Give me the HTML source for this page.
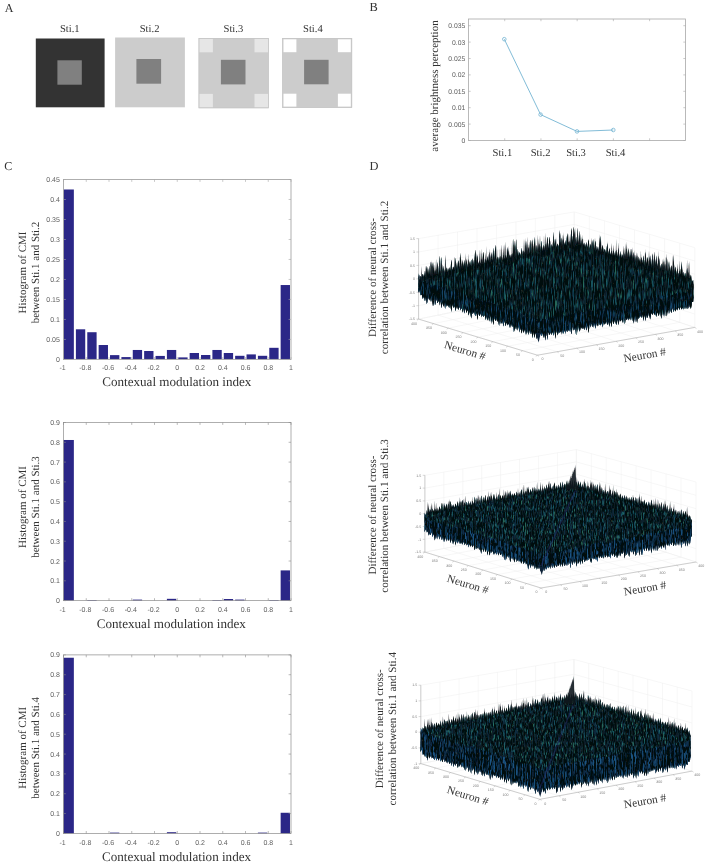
<!DOCTYPE html>
<html><head><meta charset="utf-8"><title>Figure</title>
<style>
html,body{margin:0;padding:0;background:#fff;}
body{width:708px;height:866px;overflow:hidden;font-family:"Liberation Serif",serif;}
svg{display:block;will-change:transform;filter:blur(0.35px)}
</style></head><body>
<svg text-rendering="geometricPrecision" width="708" height="866" viewBox="0 0 708 866">
<rect width="708" height="866" fill="#ffffff"/>
<text x="4.7" y="11.5" font-size="12" text-anchor="start" font-family="Liberation Serif, serif" fill="#333333">A</text>
<text x="369.5" y="10.9" font-size="12.4" text-anchor="start" font-family="Liberation Serif, serif" fill="#333333">B</text>
<text x="4.3" y="169.9" font-size="12" text-anchor="start" font-family="Liberation Serif, serif" fill="#333333">C</text>
<text x="369.5" y="169.9" font-size="12.4" text-anchor="start" font-family="Liberation Serif, serif" fill="#333333">D</text>
<rect x="35.8" y="38.5" width="68.8" height="68.8" fill="#333333"/>
<rect x="57.4" y="60.3" width="24.4" height="24.4" fill="#808080"/>
<text x="69.8" y="32.3" font-size="10.6" text-anchor="middle" font-family="Liberation Serif, serif" fill="#333333">Sti.1</text>
<rect x="115.1" y="37.5" width="69.8" height="69.8" fill="#cccccc"/>
<rect x="136.4" y="59.0" width="24.7" height="24.7" fill="#808080"/>
<text x="149.6" y="32.3" font-size="10.6" text-anchor="middle" font-family="Liberation Serif, serif" fill="#333333">Sti.2</text>
<rect x="198.6" y="38.0" width="70.2" height="70.2" fill="#cccccc"/>
<rect x="199.4" y="38.8" width="13.5" height="13.5" fill="#e6e6e6"/>
<rect x="254.5" y="38.8" width="13.5" height="13.5" fill="#e6e6e6"/>
<rect x="199.4" y="93.9" width="13.5" height="13.5" fill="#e6e6e6"/>
<rect x="254.5" y="93.9" width="13.5" height="13.5" fill="#e6e6e6"/>
<rect x="198.9" y="38.3" width="69.60000000000001" height="69.60000000000001" fill="none" stroke="#c4c4c4" stroke-width="0.6"/>
<rect x="220.9" y="59.8" width="24.6" height="24.6" fill="#808080"/>
<text x="233.4" y="32.3" font-size="10.6" text-anchor="middle" font-family="Liberation Serif, serif" fill="#333333">Sti.3</text>
<rect x="282.2" y="38.0" width="69.9" height="69.9" fill="#cccccc"/>
<rect x="283.5" y="39.3" width="12.9" height="12.9" fill="#ffffff"/>
<rect x="337.9" y="39.3" width="12.9" height="12.9" fill="#ffffff"/>
<rect x="283.5" y="93.7" width="12.9" height="12.9" fill="#ffffff"/>
<rect x="337.9" y="93.7" width="12.9" height="12.9" fill="#ffffff"/>
<rect x="282.5" y="38.3" width="69.30000000000001" height="69.30000000000001" fill="none" stroke="#c4c4c4" stroke-width="0.6"/>
<rect x="304.1" y="59.8" width="24.5" height="24.5" fill="#808080"/>
<text x="312.9" y="32.3" font-size="10.6" text-anchor="middle" font-family="Liberation Serif, serif" fill="#333333">Sti.4</text>
<rect x="468.5" y="19.0" width="217.0" height="121.5" fill="none" stroke="#a8a8a8" stroke-width="0.8"/>
<path d="M468.5 140.50h2.2M685.5 140.50h-2.2" stroke="#a8a8a8" stroke-width="0.6"/>
<text x="465.3" y="142.9" font-size="6.8" text-anchor="end" font-family="Liberation Sans, sans-serif" fill="#606060">0</text>
<path d="M468.5 124.10h2.2M685.5 124.10h-2.2" stroke="#a8a8a8" stroke-width="0.6"/>
<text x="465.3" y="126.5" font-size="6.8" text-anchor="end" font-family="Liberation Sans, sans-serif" fill="#606060">0.005</text>
<path d="M468.5 107.70h2.2M685.5 107.70h-2.2" stroke="#a8a8a8" stroke-width="0.6"/>
<text x="465.3" y="110.1" font-size="6.8" text-anchor="end" font-family="Liberation Sans, sans-serif" fill="#606060">0.01</text>
<path d="M468.5 91.30h2.2M685.5 91.30h-2.2" stroke="#a8a8a8" stroke-width="0.6"/>
<text x="465.3" y="93.7" font-size="6.8" text-anchor="end" font-family="Liberation Sans, sans-serif" fill="#606060">0.015</text>
<path d="M468.5 74.90h2.2M685.5 74.90h-2.2" stroke="#a8a8a8" stroke-width="0.6"/>
<text x="465.3" y="77.3" font-size="6.8" text-anchor="end" font-family="Liberation Sans, sans-serif" fill="#606060">0.02</text>
<path d="M468.5 58.50h2.2M685.5 58.50h-2.2" stroke="#a8a8a8" stroke-width="0.6"/>
<text x="465.3" y="60.9" font-size="6.8" text-anchor="end" font-family="Liberation Sans, sans-serif" fill="#606060">0.025</text>
<path d="M468.5 42.10h2.2M685.5 42.10h-2.2" stroke="#a8a8a8" stroke-width="0.6"/>
<text x="465.3" y="44.5" font-size="6.8" text-anchor="end" font-family="Liberation Sans, sans-serif" fill="#606060">0.03</text>
<path d="M468.5 25.70h2.2M685.5 25.70h-2.2" stroke="#a8a8a8" stroke-width="0.6"/>
<text x="465.3" y="28.1" font-size="6.8" text-anchor="end" font-family="Liberation Sans, sans-serif" fill="#606060">0.035</text>
<path d="M504.72 19.0v2.2M504.72 140.5v-2.2" stroke="#a8a8a8" stroke-width="0.6"/>
<path d="M540.94 19.0v2.2M540.94 140.5v-2.2" stroke="#a8a8a8" stroke-width="0.6"/>
<path d="M577.16 19.0v2.2M577.16 140.5v-2.2" stroke="#a8a8a8" stroke-width="0.6"/>
<path d="M613.38 19.0v2.2M613.38 140.5v-2.2" stroke="#a8a8a8" stroke-width="0.6"/>
<path d="M649.60 19.0v2.2M649.60 140.5v-2.2" stroke="#a8a8a8" stroke-width="0.6"/>
<polyline points="504.3,39.2 540.6,114.6 577.0,131.4 613.3,130.0" fill="none" stroke="#74b4d2" stroke-width="0.9"/>
<circle cx="504.3" cy="39.2" r="1.8" fill="none" stroke="#74b4d2" stroke-width="0.8"/>
<circle cx="540.6" cy="114.6" r="1.8" fill="none" stroke="#74b4d2" stroke-width="0.8"/>
<circle cx="577.0" cy="131.4" r="1.8" fill="none" stroke="#74b4d2" stroke-width="0.8"/>
<circle cx="613.3" cy="130.0" r="1.8" fill="none" stroke="#74b4d2" stroke-width="0.8"/>
<text x="502.4" y="156.0" font-size="10.6" text-anchor="middle" font-family="Liberation Serif, serif" fill="#333333">Sti.1</text>
<text x="540.6" y="156.0" font-size="10.6" text-anchor="middle" font-family="Liberation Serif, serif" fill="#333333">Sti.2</text>
<text x="576.0" y="156.0" font-size="10.6" text-anchor="middle" font-family="Liberation Serif, serif" fill="#333333">Sti.3</text>
<text x="615.5" y="156.0" font-size="10.6" text-anchor="middle" font-family="Liberation Serif, serif" fill="#333333">Sti.4</text>
<text x="437.6" y="86.0" font-size="11" text-anchor="middle" font-family="Liberation Serif, serif" fill="#333333" transform="rotate(-90 437.6 86.0)">average brightness perception</text>
<rect x="63.50" y="189.49" width="10.35" height="169.91" fill="#2b2787"/>
<rect x="75.90" y="329.30" width="9.33" height="30.10" fill="#2b2787"/>
<rect x="87.27" y="332.22" width="9.33" height="27.18" fill="#2b2787"/>
<rect x="98.65" y="345.01" width="9.33" height="14.39" fill="#2b2787"/>
<rect x="110.02" y="355.12" width="9.33" height="4.28" fill="#2b2787"/>
<rect x="121.40" y="357.08" width="9.33" height="2.32" fill="#2b2787"/>
<rect x="132.77" y="349.97" width="9.33" height="9.43" fill="#2b2787"/>
<rect x="144.15" y="351.00" width="9.33" height="8.40" fill="#2b2787"/>
<rect x="155.52" y="355.92" width="9.33" height="3.48" fill="#2b2787"/>
<rect x="166.90" y="349.97" width="9.33" height="9.43" fill="#2b2787"/>
<rect x="178.27" y="357.40" width="9.33" height="2.00" fill="#2b2787"/>
<rect x="189.65" y="353.00" width="9.33" height="6.40" fill="#2b2787"/>
<rect x="201.02" y="355.00" width="9.33" height="4.40" fill="#2b2787"/>
<rect x="212.40" y="349.97" width="9.33" height="9.43" fill="#2b2787"/>
<rect x="223.77" y="353.00" width="9.33" height="6.40" fill="#2b2787"/>
<rect x="235.15" y="355.80" width="9.33" height="3.60" fill="#2b2787"/>
<rect x="246.52" y="354.40" width="9.33" height="5.00" fill="#2b2787"/>
<rect x="257.90" y="355.80" width="9.33" height="3.60" fill="#2b2787"/>
<rect x="269.27" y="347.81" width="9.33" height="11.59" fill="#2b2787"/>
<rect x="280.65" y="285.04" width="9.33" height="74.36" fill="#2b2787"/>
<rect x="63.5" y="179.5" width="227.5" height="179.89999999999998" fill="none" stroke="#a6a6a6" stroke-width="0.9"/>
<path d="M63.5 359.40h2.4M291.0 359.40h-2.4" stroke="#a6a6a6" stroke-width="0.6"/>
<text x="59.9" y="361.9" font-size="7" text-anchor="end" font-family="Liberation Sans, sans-serif" fill="#606060">0</text>
<path d="M63.5 339.41h2.4M291.0 339.41h-2.4" stroke="#a6a6a6" stroke-width="0.6"/>
<text x="59.9" y="341.91" font-size="7" text-anchor="end" font-family="Liberation Sans, sans-serif" fill="#606060">0.05</text>
<path d="M63.5 319.42h2.4M291.0 319.42h-2.4" stroke="#a6a6a6" stroke-width="0.6"/>
<text x="59.9" y="321.92" font-size="7" text-anchor="end" font-family="Liberation Sans, sans-serif" fill="#606060">0.1</text>
<path d="M63.5 299.43h2.4M291.0 299.43h-2.4" stroke="#a6a6a6" stroke-width="0.6"/>
<text x="59.9" y="301.93" font-size="7" text-anchor="end" font-family="Liberation Sans, sans-serif" fill="#606060">0.15</text>
<path d="M63.5 279.44h2.4M291.0 279.44h-2.4" stroke="#a6a6a6" stroke-width="0.6"/>
<text x="59.9" y="281.94" font-size="7" text-anchor="end" font-family="Liberation Sans, sans-serif" fill="#606060">0.2</text>
<path d="M63.5 259.46h2.4M291.0 259.46h-2.4" stroke="#a6a6a6" stroke-width="0.6"/>
<text x="59.9" y="261.96" font-size="7" text-anchor="end" font-family="Liberation Sans, sans-serif" fill="#606060">0.25</text>
<path d="M63.5 239.47h2.4M291.0 239.47h-2.4" stroke="#a6a6a6" stroke-width="0.6"/>
<text x="59.9" y="241.97" font-size="7" text-anchor="end" font-family="Liberation Sans, sans-serif" fill="#606060">0.3</text>
<path d="M63.5 219.48h2.4M291.0 219.48h-2.4" stroke="#a6a6a6" stroke-width="0.6"/>
<text x="59.9" y="221.98" font-size="7" text-anchor="end" font-family="Liberation Sans, sans-serif" fill="#606060">0.35</text>
<path d="M63.5 199.49h2.4M291.0 199.49h-2.4" stroke="#a6a6a6" stroke-width="0.6"/>
<text x="59.9" y="201.99" font-size="7" text-anchor="end" font-family="Liberation Sans, sans-serif" fill="#606060">0.4</text>
<path d="M63.5 179.50h2.4M291.0 179.50h-2.4" stroke="#a6a6a6" stroke-width="0.6"/>
<text x="59.9" y="182.0" font-size="7" text-anchor="end" font-family="Liberation Sans, sans-serif" fill="#606060">0.45</text>
<path d="M63.50 179.5v2.4M63.50 359.4v-2.4" stroke="#a6a6a6" stroke-width="0.6"/>
<text x="62.5" y="370.0" font-size="7" text-anchor="middle" font-family="Liberation Sans, sans-serif" fill="#606060">-1</text>
<path d="M86.25 179.5v2.4M86.25 359.4v-2.4" stroke="#a6a6a6" stroke-width="0.6"/>
<text x="85.25" y="370.0" font-size="7" text-anchor="middle" font-family="Liberation Sans, sans-serif" fill="#606060">-0.8</text>
<path d="M109.00 179.5v2.4M109.00 359.4v-2.4" stroke="#a6a6a6" stroke-width="0.6"/>
<text x="108.0" y="370.0" font-size="7" text-anchor="middle" font-family="Liberation Sans, sans-serif" fill="#606060">-0.6</text>
<path d="M131.75 179.5v2.4M131.75 359.4v-2.4" stroke="#a6a6a6" stroke-width="0.6"/>
<text x="130.75" y="370.0" font-size="7" text-anchor="middle" font-family="Liberation Sans, sans-serif" fill="#606060">-0.4</text>
<path d="M154.50 179.5v2.4M154.50 359.4v-2.4" stroke="#a6a6a6" stroke-width="0.6"/>
<text x="153.5" y="370.0" font-size="7" text-anchor="middle" font-family="Liberation Sans, sans-serif" fill="#606060">-0.2</text>
<path d="M177.25 179.5v2.4M177.25 359.4v-2.4" stroke="#a6a6a6" stroke-width="0.6"/>
<text x="177.25" y="370.0" font-size="7" text-anchor="middle" font-family="Liberation Sans, sans-serif" fill="#606060">0</text>
<path d="M200.00 179.5v2.4M200.00 359.4v-2.4" stroke="#a6a6a6" stroke-width="0.6"/>
<text x="200.0" y="370.0" font-size="7" text-anchor="middle" font-family="Liberation Sans, sans-serif" fill="#606060">0.2</text>
<path d="M222.75 179.5v2.4M222.75 359.4v-2.4" stroke="#a6a6a6" stroke-width="0.6"/>
<text x="222.75" y="370.0" font-size="7" text-anchor="middle" font-family="Liberation Sans, sans-serif" fill="#606060">0.4</text>
<path d="M245.50 179.5v2.4M245.50 359.4v-2.4" stroke="#a6a6a6" stroke-width="0.6"/>
<text x="245.5" y="370.0" font-size="7" text-anchor="middle" font-family="Liberation Sans, sans-serif" fill="#606060">0.6</text>
<path d="M268.25 179.5v2.4M268.25 359.4v-2.4" stroke="#a6a6a6" stroke-width="0.6"/>
<text x="268.25" y="370.0" font-size="7" text-anchor="middle" font-family="Liberation Sans, sans-serif" fill="#606060">0.8</text>
<path d="M291.00 179.5v2.4M291.00 359.4v-2.4" stroke="#a6a6a6" stroke-width="0.6"/>
<text x="291.0" y="370.0" font-size="7" text-anchor="middle" font-family="Liberation Sans, sans-serif" fill="#606060">1</text>
<text x="176.8" y="386.3" font-size="13.1" text-anchor="middle" font-family="Liberation Serif, serif" fill="#333333">Contexual modulation index</text>
<text x="25.8" y="272.5" font-size="11" text-anchor="middle" font-family="Liberation Serif, serif" fill="#333333" transform="rotate(-90 25.8 272.5)">Histogram of CMI</text>
<text x="38.6" y="272.5" font-size="11" text-anchor="middle" font-family="Liberation Serif, serif" fill="#333333" transform="rotate(-90 38.6 272.5)">between Sti.1 and Sti.2</text>
<rect x="63.50" y="439.99" width="10.35" height="160.61" fill="#2b2787"/>
<rect x="87.27" y="600.01" width="9.33" height="0.59" fill="#2b2787"/>
<rect x="132.77" y="599.61" width="9.33" height="0.99" fill="#2b2787"/>
<rect x="166.90" y="598.82" width="9.33" height="1.78" fill="#2b2787"/>
<rect x="212.40" y="600.01" width="9.33" height="0.59" fill="#2b2787"/>
<rect x="223.77" y="599.02" width="9.33" height="1.58" fill="#2b2787"/>
<rect x="235.15" y="599.61" width="9.33" height="0.99" fill="#2b2787"/>
<rect x="269.27" y="600.01" width="9.33" height="0.59" fill="#2b2787"/>
<rect x="280.65" y="570.40" width="9.33" height="30.20" fill="#2b2787"/>
<rect x="63.5" y="422.5" width="227.5" height="178.10000000000002" fill="none" stroke="#8c8c8c" stroke-width="0.7"/>
<path d="M63.5 600.60h2.4M291.0 600.60h-2.4" stroke="#8c8c8c" stroke-width="0.6"/>
<text x="59.9" y="603.1" font-size="7" text-anchor="end" font-family="Liberation Sans, sans-serif" fill="#606060">0</text>
<path d="M63.5 580.81h2.4M291.0 580.81h-2.4" stroke="#8c8c8c" stroke-width="0.6"/>
<text x="59.9" y="583.31" font-size="7" text-anchor="end" font-family="Liberation Sans, sans-serif" fill="#606060">0.1</text>
<path d="M63.5 561.02h2.4M291.0 561.02h-2.4" stroke="#8c8c8c" stroke-width="0.6"/>
<text x="59.9" y="563.52" font-size="7" text-anchor="end" font-family="Liberation Sans, sans-serif" fill="#606060">0.2</text>
<path d="M63.5 541.23h2.4M291.0 541.23h-2.4" stroke="#8c8c8c" stroke-width="0.6"/>
<text x="59.9" y="543.73" font-size="7" text-anchor="end" font-family="Liberation Sans, sans-serif" fill="#606060">0.3</text>
<path d="M63.5 521.44h2.4M291.0 521.44h-2.4" stroke="#8c8c8c" stroke-width="0.6"/>
<text x="59.9" y="523.94" font-size="7" text-anchor="end" font-family="Liberation Sans, sans-serif" fill="#606060">0.4</text>
<path d="M63.5 501.66h2.4M291.0 501.66h-2.4" stroke="#8c8c8c" stroke-width="0.6"/>
<text x="59.9" y="504.16" font-size="7" text-anchor="end" font-family="Liberation Sans, sans-serif" fill="#606060">0.5</text>
<path d="M63.5 481.87h2.4M291.0 481.87h-2.4" stroke="#8c8c8c" stroke-width="0.6"/>
<text x="59.9" y="484.37" font-size="7" text-anchor="end" font-family="Liberation Sans, sans-serif" fill="#606060">0.6</text>
<path d="M63.5 462.08h2.4M291.0 462.08h-2.4" stroke="#8c8c8c" stroke-width="0.6"/>
<text x="59.9" y="464.58" font-size="7" text-anchor="end" font-family="Liberation Sans, sans-serif" fill="#606060">0.7</text>
<path d="M63.5 442.29h2.4M291.0 442.29h-2.4" stroke="#8c8c8c" stroke-width="0.6"/>
<text x="59.9" y="444.79" font-size="7" text-anchor="end" font-family="Liberation Sans, sans-serif" fill="#606060">0.8</text>
<path d="M63.5 422.50h2.4M291.0 422.50h-2.4" stroke="#8c8c8c" stroke-width="0.6"/>
<text x="59.9" y="425.0" font-size="7" text-anchor="end" font-family="Liberation Sans, sans-serif" fill="#606060">0.9</text>
<path d="M63.50 422.5v2.4M63.50 600.6v-2.4" stroke="#8c8c8c" stroke-width="0.6"/>
<text x="62.5" y="611.9" font-size="7" text-anchor="middle" font-family="Liberation Sans, sans-serif" fill="#606060">-1</text>
<path d="M86.25 422.5v2.4M86.25 600.6v-2.4" stroke="#8c8c8c" stroke-width="0.6"/>
<text x="85.25" y="611.9" font-size="7" text-anchor="middle" font-family="Liberation Sans, sans-serif" fill="#606060">-0.8</text>
<path d="M109.00 422.5v2.4M109.00 600.6v-2.4" stroke="#8c8c8c" stroke-width="0.6"/>
<text x="108.0" y="611.9" font-size="7" text-anchor="middle" font-family="Liberation Sans, sans-serif" fill="#606060">-0.6</text>
<path d="M131.75 422.5v2.4M131.75 600.6v-2.4" stroke="#8c8c8c" stroke-width="0.6"/>
<text x="130.75" y="611.9" font-size="7" text-anchor="middle" font-family="Liberation Sans, sans-serif" fill="#606060">-0.4</text>
<path d="M154.50 422.5v2.4M154.50 600.6v-2.4" stroke="#8c8c8c" stroke-width="0.6"/>
<text x="153.5" y="611.9" font-size="7" text-anchor="middle" font-family="Liberation Sans, sans-serif" fill="#606060">-0.2</text>
<path d="M177.25 422.5v2.4M177.25 600.6v-2.4" stroke="#8c8c8c" stroke-width="0.6"/>
<text x="177.25" y="611.9" font-size="7" text-anchor="middle" font-family="Liberation Sans, sans-serif" fill="#606060">0</text>
<path d="M200.00 422.5v2.4M200.00 600.6v-2.4" stroke="#8c8c8c" stroke-width="0.6"/>
<text x="200.0" y="611.9" font-size="7" text-anchor="middle" font-family="Liberation Sans, sans-serif" fill="#606060">0.2</text>
<path d="M222.75 422.5v2.4M222.75 600.6v-2.4" stroke="#8c8c8c" stroke-width="0.6"/>
<text x="222.75" y="611.9" font-size="7" text-anchor="middle" font-family="Liberation Sans, sans-serif" fill="#606060">0.4</text>
<path d="M245.50 422.5v2.4M245.50 600.6v-2.4" stroke="#8c8c8c" stroke-width="0.6"/>
<text x="245.5" y="611.9" font-size="7" text-anchor="middle" font-family="Liberation Sans, sans-serif" fill="#606060">0.6</text>
<path d="M268.25 422.5v2.4M268.25 600.6v-2.4" stroke="#8c8c8c" stroke-width="0.6"/>
<text x="268.25" y="611.9" font-size="7" text-anchor="middle" font-family="Liberation Sans, sans-serif" fill="#606060">0.8</text>
<path d="M291.00 422.5v2.4M291.00 600.6v-2.4" stroke="#8c8c8c" stroke-width="0.6"/>
<text x="291.0" y="611.9" font-size="7" text-anchor="middle" font-family="Liberation Sans, sans-serif" fill="#606060">1</text>
<text x="171.3" y="627.9" font-size="13.1" text-anchor="middle" font-family="Liberation Serif, serif" fill="#333333">Contexual modulation index</text>
<text x="25.8" y="507.0" font-size="11" text-anchor="middle" font-family="Liberation Serif, serif" fill="#333333" transform="rotate(-90 25.8 507.0)">Histogram of CMI</text>
<text x="38.6" y="507.0" font-size="11" text-anchor="middle" font-family="Liberation Serif, serif" fill="#333333" transform="rotate(-90 38.6 507.0)">between Sti.1 and Sti.3</text>
<rect x="63.50" y="657.74" width="10.35" height="175.66" fill="#2b2787"/>
<rect x="110.02" y="832.61" width="9.33" height="0.79" fill="#2b2787"/>
<rect x="166.90" y="832.21" width="9.33" height="1.19" fill="#2b2787"/>
<rect x="257.90" y="832.61" width="9.33" height="0.79" fill="#2b2787"/>
<rect x="280.65" y="812.77" width="9.33" height="20.63" fill="#2b2787"/>
<rect x="63.5" y="654.9" width="227.5" height="178.5" fill="none" stroke="#8c8c8c" stroke-width="0.7"/>
<path d="M63.5 833.40h2.4M291.0 833.40h-2.4" stroke="#8c8c8c" stroke-width="0.6"/>
<text x="59.9" y="835.9" font-size="7" text-anchor="end" font-family="Liberation Sans, sans-serif" fill="#606060">0</text>
<path d="M63.5 813.57h2.4M291.0 813.57h-2.4" stroke="#8c8c8c" stroke-width="0.6"/>
<text x="59.9" y="816.07" font-size="7" text-anchor="end" font-family="Liberation Sans, sans-serif" fill="#606060">0.1</text>
<path d="M63.5 793.73h2.4M291.0 793.73h-2.4" stroke="#8c8c8c" stroke-width="0.6"/>
<text x="59.9" y="796.23" font-size="7" text-anchor="end" font-family="Liberation Sans, sans-serif" fill="#606060">0.2</text>
<path d="M63.5 773.90h2.4M291.0 773.90h-2.4" stroke="#8c8c8c" stroke-width="0.6"/>
<text x="59.9" y="776.4" font-size="7" text-anchor="end" font-family="Liberation Sans, sans-serif" fill="#606060">0.3</text>
<path d="M63.5 754.07h2.4M291.0 754.07h-2.4" stroke="#8c8c8c" stroke-width="0.6"/>
<text x="59.9" y="756.57" font-size="7" text-anchor="end" font-family="Liberation Sans, sans-serif" fill="#606060">0.4</text>
<path d="M63.5 734.23h2.4M291.0 734.23h-2.4" stroke="#8c8c8c" stroke-width="0.6"/>
<text x="59.9" y="736.73" font-size="7" text-anchor="end" font-family="Liberation Sans, sans-serif" fill="#606060">0.5</text>
<path d="M63.5 714.40h2.4M291.0 714.40h-2.4" stroke="#8c8c8c" stroke-width="0.6"/>
<text x="59.9" y="716.9" font-size="7" text-anchor="end" font-family="Liberation Sans, sans-serif" fill="#606060">0.6</text>
<path d="M63.5 694.57h2.4M291.0 694.57h-2.4" stroke="#8c8c8c" stroke-width="0.6"/>
<text x="59.9" y="697.07" font-size="7" text-anchor="end" font-family="Liberation Sans, sans-serif" fill="#606060">0.7</text>
<path d="M63.5 674.73h2.4M291.0 674.73h-2.4" stroke="#8c8c8c" stroke-width="0.6"/>
<text x="59.9" y="677.23" font-size="7" text-anchor="end" font-family="Liberation Sans, sans-serif" fill="#606060">0.8</text>
<path d="M63.5 654.90h2.4M291.0 654.90h-2.4" stroke="#8c8c8c" stroke-width="0.6"/>
<text x="59.9" y="657.4" font-size="7" text-anchor="end" font-family="Liberation Sans, sans-serif" fill="#606060">0.9</text>
<path d="M63.50 654.9v2.4M63.50 833.4v-2.4" stroke="#8c8c8c" stroke-width="0.6"/>
<text x="62.5" y="844.6" font-size="7" text-anchor="middle" font-family="Liberation Sans, sans-serif" fill="#606060">-1</text>
<path d="M86.25 654.9v2.4M86.25 833.4v-2.4" stroke="#8c8c8c" stroke-width="0.6"/>
<text x="85.25" y="844.6" font-size="7" text-anchor="middle" font-family="Liberation Sans, sans-serif" fill="#606060">-0.8</text>
<path d="M109.00 654.9v2.4M109.00 833.4v-2.4" stroke="#8c8c8c" stroke-width="0.6"/>
<text x="108.0" y="844.6" font-size="7" text-anchor="middle" font-family="Liberation Sans, sans-serif" fill="#606060">-0.6</text>
<path d="M131.75 654.9v2.4M131.75 833.4v-2.4" stroke="#8c8c8c" stroke-width="0.6"/>
<text x="130.75" y="844.6" font-size="7" text-anchor="middle" font-family="Liberation Sans, sans-serif" fill="#606060">-0.4</text>
<path d="M154.50 654.9v2.4M154.50 833.4v-2.4" stroke="#8c8c8c" stroke-width="0.6"/>
<text x="153.5" y="844.6" font-size="7" text-anchor="middle" font-family="Liberation Sans, sans-serif" fill="#606060">-0.2</text>
<path d="M177.25 654.9v2.4M177.25 833.4v-2.4" stroke="#8c8c8c" stroke-width="0.6"/>
<text x="177.25" y="844.6" font-size="7" text-anchor="middle" font-family="Liberation Sans, sans-serif" fill="#606060">0</text>
<path d="M200.00 654.9v2.4M200.00 833.4v-2.4" stroke="#8c8c8c" stroke-width="0.6"/>
<text x="200.0" y="844.6" font-size="7" text-anchor="middle" font-family="Liberation Sans, sans-serif" fill="#606060">0.2</text>
<path d="M222.75 654.9v2.4M222.75 833.4v-2.4" stroke="#8c8c8c" stroke-width="0.6"/>
<text x="222.75" y="844.6" font-size="7" text-anchor="middle" font-family="Liberation Sans, sans-serif" fill="#606060">0.4</text>
<path d="M245.50 654.9v2.4M245.50 833.4v-2.4" stroke="#8c8c8c" stroke-width="0.6"/>
<text x="245.5" y="844.6" font-size="7" text-anchor="middle" font-family="Liberation Sans, sans-serif" fill="#606060">0.6</text>
<path d="M268.25 654.9v2.4M268.25 833.4v-2.4" stroke="#8c8c8c" stroke-width="0.6"/>
<text x="268.25" y="844.6" font-size="7" text-anchor="middle" font-family="Liberation Sans, sans-serif" fill="#606060">0.8</text>
<path d="M291.00 654.9v2.4M291.00 833.4v-2.4" stroke="#8c8c8c" stroke-width="0.6"/>
<text x="291.0" y="844.6" font-size="7" text-anchor="middle" font-family="Liberation Sans, sans-serif" fill="#606060">1</text>
<text x="176.5" y="861.0" font-size="13.1" text-anchor="middle" font-family="Liberation Serif, serif" fill="#333333">Contexual modulation index</text>
<text x="25.8" y="747.8" font-size="11" text-anchor="middle" font-family="Liberation Serif, serif" fill="#333333" transform="rotate(-90 25.8 747.8)">Histogram of CMI</text>
<text x="38.6" y="747.8" font-size="11" text-anchor="middle" font-family="Liberation Serif, serif" fill="#333333" transform="rotate(-90 38.6 747.8)">between Sti.1 and Sti.4</text>
<path d="M418.6 319.1L574.2 287.2M537.4 355.2L418.6 319.1M418.6 319.1L418.6 238.6M574.2 287.2L574.2 211.9M433.5 323.6L589.3 292.2M557.1 351.7L438.1 315.1M438.1 315.1L438.1 235.3M589.3 292.2L589.3 216.4M448.3 328.1L604.4 297.2M576.8 348.2L457.5 311.1M457.5 311.1L457.5 231.9M604.4 297.2L604.4 220.8M463.1 332.6L619.4 302.3M596.4 344.8L477 307.1M477 307.1L477 228.6M619.4 302.3L619.4 225.3M478 337.1L634.5 307.3M616.1 341.3L496.4 303.1M496.4 303.1L496.4 225.2M634.5 307.3L634.5 229.8M492.9 341.7L649.6 312.3M635.8 337.8L515.9 299.2M515.9 299.2L515.9 221.9M649.6 312.3L649.6 234.3M507.7 346.2L664.6 317.3M655.4 334.3L535.3 295.2M535.3 295.2L535.3 218.6M664.6 317.3L664.6 238.8M522.5 350.7L679.7 322.4M675.1 330.9L554.8 291.2M554.8 291.2L554.8 215.2M679.7 322.4L679.7 243.2M537.4 355.2L694.8 327.4M694.8 327.4L574.2 287.2M574.2 287.2L574.2 211.9M694.8 327.4L694.8 247.7M418.6 319.1L574.2 287.2L694.8 327.4M418.6 305.7L574.2 274.6L694.8 314.1M418.6 292.3L574.2 262.1L694.8 300.8M418.6 278.9L574.2 249.5L694.8 287.5M418.6 265.4L574.2 237L694.8 274.3M418.6 252L574.2 224.4L694.8 261M418.6 238.6L574.2 211.9L694.8 247.7" fill="none" stroke="#efefef" stroke-width="0.5"/>
<path d="M418.6 238.6L418.6 319.1L537.4 355.2L694.8 327.4" fill="none" stroke="#ababab" stroke-width="0.55"/>
<text x="415.0" y="320.3" font-size="3.6" text-anchor="end" font-family="Liberation Sans, sans-serif" fill="#7a7a7a">-1.5</text>
<text x="415.0" y="306.9" font-size="3.6" text-anchor="end" font-family="Liberation Sans, sans-serif" fill="#7a7a7a">-1</text>
<text x="415.0" y="293.5" font-size="3.6" text-anchor="end" font-family="Liberation Sans, sans-serif" fill="#7a7a7a">-0.5</text>
<text x="415.0" y="280.1" font-size="3.6" text-anchor="end" font-family="Liberation Sans, sans-serif" fill="#7a7a7a">0</text>
<text x="415.0" y="266.6" font-size="3.6" text-anchor="end" font-family="Liberation Sans, sans-serif" fill="#7a7a7a">0.5</text>
<text x="415.0" y="253.2" font-size="3.6" text-anchor="end" font-family="Liberation Sans, sans-serif" fill="#7a7a7a">1</text>
<text x="415.0" y="239.8" font-size="3.6" text-anchor="end" font-family="Liberation Sans, sans-serif" fill="#7a7a7a">1.5</text>
<text x="414.0" y="324.5" font-size="3.6" text-anchor="middle" font-family="Liberation Sans, sans-serif" fill="#7a7a7a">400</text>
<text x="542.6" y="360.4" font-size="3.6" text-anchor="middle" font-family="Liberation Sans, sans-serif" fill="#7a7a7a">0</text>
<text x="428.9" y="329.0" font-size="3.6" text-anchor="middle" font-family="Liberation Sans, sans-serif" fill="#7a7a7a">350</text>
<text x="562.3" y="356.9" font-size="3.6" text-anchor="middle" font-family="Liberation Sans, sans-serif" fill="#7a7a7a">50</text>
<text x="443.7" y="333.5" font-size="3.6" text-anchor="middle" font-family="Liberation Sans, sans-serif" fill="#7a7a7a">300</text>
<text x="582.0" y="353.4" font-size="3.6" text-anchor="middle" font-family="Liberation Sans, sans-serif" fill="#7a7a7a">100</text>
<text x="458.5" y="338.0" font-size="3.6" text-anchor="middle" font-family="Liberation Sans, sans-serif" fill="#7a7a7a">250</text>
<text x="601.6" y="350.0" font-size="3.6" text-anchor="middle" font-family="Liberation Sans, sans-serif" fill="#7a7a7a">150</text>
<text x="473.4" y="342.5" font-size="3.6" text-anchor="middle" font-family="Liberation Sans, sans-serif" fill="#7a7a7a">200</text>
<text x="621.3" y="346.5" font-size="3.6" text-anchor="middle" font-family="Liberation Sans, sans-serif" fill="#7a7a7a">200</text>
<text x="488.2" y="347.1" font-size="3.6" text-anchor="middle" font-family="Liberation Sans, sans-serif" fill="#7a7a7a">150</text>
<text x="641.0" y="343.0" font-size="3.6" text-anchor="middle" font-family="Liberation Sans, sans-serif" fill="#7a7a7a">250</text>
<text x="503.1" y="351.6" font-size="3.6" text-anchor="middle" font-family="Liberation Sans, sans-serif" fill="#7a7a7a">100</text>
<text x="660.6" y="339.5" font-size="3.6" text-anchor="middle" font-family="Liberation Sans, sans-serif" fill="#7a7a7a">300</text>
<text x="517.9" y="356.1" font-size="3.6" text-anchor="middle" font-family="Liberation Sans, sans-serif" fill="#7a7a7a">50</text>
<text x="680.3" y="336.1" font-size="3.6" text-anchor="middle" font-family="Liberation Sans, sans-serif" fill="#7a7a7a">350</text>
<text x="532.8" y="360.6" font-size="3.6" text-anchor="middle" font-family="Liberation Sans, sans-serif" fill="#7a7a7a">0</text>
<text x="700.0" y="332.6" font-size="3.6" text-anchor="middle" font-family="Liberation Sans, sans-serif" fill="#7a7a7a">400</text>
<path d="M418.6 319.1h-2.2M418.6 305.7h-2.2M418.6 292.3h-2.2M418.6 278.9h-2.2M418.6 265.4h-2.2M418.6 252h-2.2M418.6 238.6h-2.2M418.6 319.1l-1.6 1.1M537.4 355.2l1.6 1.1M433.5 323.6l-1.6 1.1M557.1 351.7l1.6 1.1M448.3 328.1l-1.6 1.1M576.8 348.2l1.6 1.1M463.1 332.6l-1.6 1.1M596.4 344.8l1.6 1.1M478 337.1l-1.6 1.1M616.1 341.3l1.6 1.1M492.9 341.7l-1.6 1.1M635.8 337.8l1.6 1.1M507.7 346.2l-1.6 1.1M655.4 334.3l1.6 1.1M522.5 350.7l-1.6 1.1M675.1 330.9l1.6 1.1M537.4 355.2l-1.6 1.1M694.8 327.4l1.6 1.1" fill="none" stroke="#ababab" stroke-width="0.45"/>
<defs><filter id="ta1" filterUnits="userSpaceOnUse" x="415" y="194" width="282" height="151" color-interpolation-filters="sRGB"><feTurbulence type="fractalNoise" baseFrequency="0.9 0.09" numOctaves="2" seed="12"/><feColorMatrix values="0 0 0 0 0.08 0 0 0 0 0.33 0 0 0 0 0.36 5.0 0 0 0 -2.5"/><feComposite in2="SourceAlpha" operator="in"/></filter><filter id="tg1" filterUnits="userSpaceOnUse" x="415" y="194" width="282" height="151" color-interpolation-filters="sRGB"><feTurbulence type="fractalNoise" baseFrequency="0.9 0.09" numOctaves="2" seed="13"/><feColorMatrix values="0 0 0 0 0.18 0 0 0 0 0.48 0 0 0 0 0.4 6.5 0 0 0 -3.85"/><feComposite in2="SourceAlpha" operator="in"/></filter><filter id="tb1" filterUnits="userSpaceOnUse" x="415" y="194" width="282" height="151" color-interpolation-filters="sRGB"><feTurbulence type="fractalNoise" baseFrequency="0.9 0.09" numOctaves="2" seed="14"/><feColorMatrix values="0 0 0 0 0.08 0 0 0 0 0.27 0 0 0 0 0.41 5.5 0 0 0 -2.4"/><feComposite in2="SourceAlpha" operator="in"/></filter><filter id="tk1" filterUnits="userSpaceOnUse" x="415" y="194" width="282" height="151" color-interpolation-filters="sRGB"><feTurbulence type="fractalNoise" baseFrequency="0.9 0.09" numOctaves="2" seed="15"/><feColorMatrix values="0 0 0 0 0.0 0 0 0 0 0.03 0 0 0 0 0.04 5.5 0 0 0 -2.35"/><feComposite in2="SourceAlpha" operator="in"/></filter><filter id="tq1" filterUnits="userSpaceOnUse" x="415" y="194" width="282" height="151" color-interpolation-filters="sRGB"><feTurbulence type="fractalNoise" baseFrequency="0.9 0.09" numOctaves="2" seed="17"/><feColorMatrix values="0 0 0 0 0.0 0 0 0 0 0.03 0 0 0 0 0.05 6.0 0 0 0 -2.5"/><feComposite in2="SourceAlpha" operator="in"/></filter><filter id="ty1" filterUnits="userSpaceOnUse" x="415" y="194" width="282" height="151" color-interpolation-filters="sRGB"><feTurbulence type="fractalNoise" baseFrequency="0.8 0.4" numOctaves="1" seed="16"/><feColorMatrix values="0 0 0 0 0.5 0 0 0 0 0.45 0 0 0 0 0.28 9.0 0 0 0 -6.1"/><feComposite in2="SourceAlpha" operator="in"/></filter><filter id="bl1" filterUnits="userSpaceOnUse" x="413" y="192" width="286" height="155"><feGaussianBlur stdDeviation="0.4"/></filter><path id="s1" d="M418.4 274L419.4 281L420.5 276.1L421.8 277.6L422.9 273.8L423.9 277L425 270.4L425.9 277.2L426.9 265.8L428.1 275.7L429.3 265.5L430.1 275.8L431 261L431.8 275.6L433 262L434.2 274.9L435 270L436.3 274.9L437.7 261.9L438.8 274.5L439.9 255.5L440.8 273.9L441.5 256.8L442.6 272.8L443.4 265.4L444.2 273.1L445.1 268.7L445.9 271.7L446.9 267.6L447.9 272.3L449.2 267.2L450.2 271.7L451.4 259.4L452.4 270.8L453.6 266.6L454.6 270.4L455.5 257.7L456.9 269.9L458.2 260.2L459.5 269.1L460.7 252.7L461.6 269.3L462.5 259.9L463.4 268L464.2 259.8L465.4 267.3L466.4 259.1L467.7 267.9L468.6 259L470 266.3L471.2 259.6L472 267.1L472.8 258.3L474.2 265.9L475.2 249.5L476.5 265.2L477.5 254.9L478.3 264.5L479.4 261.1L480.7 264.2L481.6 258.4L482.4 264.4L483.3 251.4L484.6 263.7L485.9 258.7L486.7 263.1L487.6 255.9L488.4 262.3L489.1 252.1L490.4 262.4L491.2 252L492.3 261.6L493.3 247.5L494.2 261.3L495.4 244.4L496.2 261.8L497.3 256.6L498.1 261L499.1 256.4L500 260.1L500.9 255.9L502.3 260L503.5 254.7L504.4 259.9L505.7 254.8L506.6 259.2L507.6 246.9L508.8 257.6L510 254.2L510.8 257.9L512.1 253.2L513 256.9L513.9 238.6L515.1 256.3L516.1 239.1L517 256.9L517.8 248.4L518.6 256L519.7 252.1L520.5 256.2L521.7 247.8L522.6 255.1L523.7 250.5L525 253.9L526 240.4L527.1 254.7L528.4 246.9L529.3 253.7L530.1 239.4L531.4 253.9L532.6 239.4L533.5 252.6L534.4 236.8L535.6 252.7L536.9 245L537.8 251.2L539.1 243.6L540.4 251L541.5 240.5L542.5 251.4L543.3 244.5L544.1 250.5L545.4 243.4L546.3 250.1L547.5 236.5L548.4 248.7L549.6 236.5L550.8 248.8L551.7 244L552.5 247.9L553.7 231.9L554.5 248.1L555.4 238.4L556.4 247.9L557.7 243.4L558.8 247.5L559.8 229.9L561.1 246.6L561.9 238.1L562.7 245.6L563.6 238.9L564.6 246L565.4 240.1L566.2 245.6L567.2 233L568.3 244.3L569.1 241L570.1 245L571.4 228.1L572.7 243.4L573.9 226.4L575 244.7L576.1 236.4L577 244.2L577.7 227.7L578.5 245L579.8 231.1L580.9 245.2L582.3 238.5L583 245.8L584.2 242.6L585.2 247.3L586.4 242.1L587.3 247.6L588.7 239.2L589.5 249L590.6 243.6L591.8 249.6L593.1 238.9L594.3 249.4L595.4 240.7L596.7 250.7L598 246.2L598.9 251.9L600.1 235.7L601.4 251.2L602.7 245L603.7 251.9L604.9 249L606.2 253.6L607.3 243L608.4 253.9L609.4 248L610.5 255.1L611.6 250.7L612.4 255.3L613.6 250.6L614.9 255.5L616.2 249.7L617.4 257.3L618.4 247.7L619.6 257.9L620.7 251.1L621.7 258.4L623 254.3L623.7 258.5L624.9 253.2L625.7 258.4L626.8 248.2L627.9 259.4L628.7 248.1L629.9 259.8L631 248.2L632.1 260.4L633.4 251.8L634.3 262.3L635 254.4L636 261.8L637.1 255.5L638 263.3L638.8 256.5L640.1 263.1L641.3 256.9L642.3 264.1L643.6 255.3L644.5 264.7L645.7 251.8L646.5 264.9L647.6 256.9L648.8 266L650.1 255.3L651.4 266L652.4 253.2L653.5 266.7L654.4 251.3L655.2 268L656.3 255.3L657.5 268.1L658.8 255.6L660 269.6L661.3 263.5L662.2 270.1L663.1 261.2L664.1 270.7L665 263.6L665.9 271.2L666.9 257.1L668 272.2L669 261.1L670 272.5L671.2 265.3L672.6 272.4L673.6 254.7L674.4 273L675.2 266.5L676.4 274.8L677.2 268.5L678.4 274.9L679.5 270.6L680.4 275.2L681.6 261.3L682.4 275.3L683.2 271.8L684.2 276.7L685 272.4L686.2 276.7L687.1 267.8L687.9 277.6L688.7 271.9L689.8 278.6L690.9 274.6L692 281.8L693.1 279.9L693.6 284.9L693.6 297.6L693.1 301.9L692 301.7L690.9 309.1L689.8 304.6L688.7 308.8L687.9 305.1L687.1 309.3L686.2 306.4L685 309.2L684.2 306.1L683.2 309.8L682.4 307.1L681.6 309.6L680.4 306.9L679.5 310L678.4 307L677.2 310.6L676.4 308.4L675.2 311.6L674.4 308.6L673.6 312.2L672.6 308.2L671.2 312.9L670 308.6L669 313.9L668 308.7L666.9 316.5L665.9 309.3L665 316.8L664.1 309.6L663.1 316.4L662.2 310.6L661.3 318.7L660 311.1L658.8 315.9L657.5 311.9L656.3 317.2L655.2 312.4L654.4 314.9L653.5 311.9L652.4 315.3L651.4 312.6L650.1 319.5L648.8 312.5L647.6 318.2L646.5 314.3L645.7 321L644.5 314.5L643.6 321.1L642.3 314L641.3 317.8L640.1 315L638.8 319L638 315.6L637.1 323.1L636 315.9L635 322.5L634.3 315.4L633.4 323.7L632.1 316.1L631 320.5L629.9 317.1L628.7 320.5L627.9 316.9L626.8 320.3L625.7 318.1L624.9 324.2L623.7 317.8L623 323.1L621.7 319.1L620.7 321.5L619.6 319L618.4 325.3L617.4 319.5L616.2 325L614.9 319.3L613.6 324.2L612.4 319.8L611.6 327.1L610.5 321.3L609.4 327L608.4 321.5L607.3 325.1L606.2 321.4L604.9 324.6L603.7 321.9L602.7 327.5L601.4 322.7L600.1 325.4L598.9 322.2L598 326.4L596.7 322.9L595.4 328.7L594.3 323.5L593.1 327.8L591.8 323.8L590.6 327.4L589.5 324.4L588.7 333.1L587.3 324.7L586.4 330.4L585.2 325.6L584.2 330L583 325.9L582.3 329.3L580.9 326.2L579.8 331.8L578.5 326.1L577.7 333L577 327L576.1 335.2L575 327.5L573.9 330.4L572.7 327L571.4 334.2L570.1 328.4L569.1 331.4L568.3 328.9L567.2 332.2L566.2 329.2L565.4 334.5L564.6 329.3L563.6 334L562.7 328.8L561.9 334.8L561.1 330.2L559.8 333L558.8 330.8L557.7 335.4L556.4 330L555.4 338.9L554.5 330.1L553.7 335.8L552.5 331.5L551.7 335.2L550.8 332.1L549.6 335L548.4 331.7L547.5 340.1L546.3 331.9L545.4 340.6L544.1 332.5L543.3 338.3L542.5 332.6L541.5 336.3L540.4 333L539.1 336.2L537.8 333.6L536.9 339.1L535.6 332.2L534.4 338L533.5 331.2L532.6 338.2L531.4 330.7L530.1 334L529.3 329.5L528.4 335.1L527.1 329.3L526 335L525 328.1L523.7 332.9L522.6 328.3L521.7 333.6L520.5 327.6L519.7 332.6L518.6 326.2L517.8 330.7L517 326L516.1 329.8L515.1 325.7L513.9 332.3L513 323.8L512.1 327.1L510.8 323.4L510 328.1L508.8 323.4L507.6 325.5L506.6 322L505.7 326.2L504.4 320.5L503.5 326.6L502.3 321.1L500.9 323.9L500 319.1L499.1 326.1L498.1 319.3L497.3 322L496.2 317.8L495.4 321.3L494.2 318L493.3 324.9L492.3 316.8L491.2 323.9L490.4 316L489.1 321.6L488.4 316.4L487.6 320.4L486.7 315.6L485.9 319.9L484.6 315.1L483.3 317.3L482.4 314.6L481.6 317.6L480.7 313.2L479.4 316.3L478.3 312.4L477.5 320.1L476.5 312.7L475.2 316.2L474.2 311L472.8 314L472 311.2L471.2 318.5L470 310.1L468.6 315.6L467.7 309.4L466.4 313.1L465.4 308L464.2 313.6L463.4 308.1L462.5 312.8L461.6 306.9L460.7 310.5L459.5 306.4L458.2 310.1L456.9 305.6L455.5 311.1L454.6 305.7L453.6 308.3L452.4 304L451.4 312.2L450.2 303.5L449.2 308.3L447.9 303.8L446.9 306.7L445.9 302.2L445.1 309.1L444.2 302.2L443.4 306.7L442.6 302.3L441.5 308.3L440.8 301.3L439.9 305.6L438.8 299.7L437.7 303.3L436.3 299.5L435 305.3L434.2 298.8L433 306.4L431.8 297.7L431 301.9L430.1 297.5L429.3 300.4L428.1 296.4L426.9 304.2L425.9 296.6L425 301.4L423.9 295.5L422.9 298.9L421.8 294.8L420.5 295.2L419.4 289.7L418.4 292.8Z"/><path id="b1" d="M418.4 273L421.8 281.4L425 282.4L428.1 282.7L431 285.4L434.2 285.6L437.7 285.6L440.8 286L443.4 288L445.9 288.5L449.2 290.6L452.4 291.4L455.5 292.1L459.5 292.3L462.5 293.2L465.4 294.5L468.6 295.4L472 297.9L475.2 298L478.3 299.3L481.6 301.2L484.6 300.4L487.6 302L490.4 301.9L493.3 304.3L496.2 303.3L499.1 306.3L502.3 307.4L505.7 308.6L508.8 307.9L512.1 309.6L515.1 311.8L517.8 311.3L520.5 313.2L523.7 314.3L527.1 316.8L530.1 317L533.5 318.9L536.9 318.8L540.4 320.1L543.3 318.7L546.3 319.4L549.6 316.8L552.5 318.2L555.4 316.1L558.8 316.4L561.9 315.8L564.6 314.5L567.2 315.7L570.1 313.9L573.9 313.3L577 312.2L579.8 312.3L583 312.1L586.4 312L589.5 310.6L593.1 310.7L596.7 308.5L600.1 308.6L603.7 308L607.3 308.6L610.5 307.6L613.6 306.6L617.4 304.3L620.7 304.5L623.7 304.8L626.8 303L629.9 303.2L633.4 302.3L636 300.6L638.8 302.5L642.3 301.4L645.7 299.2L648.8 299.7L652.4 298.1L655.2 297.8L658.8 297.5L662.2 296.2L665 295.8L668 295.4L671.2 295.4L674.4 293.8L677.2 293.1L680.4 293.8L683.2 292.2L686.2 293.2L688.7 291.8L692 288.4L693.6 297.6L693.1 301.9L692 301.7L690.9 309.1L689.8 304.6L688.7 308.8L687.9 305.1L687.1 309.3L686.2 306.4L685 309.2L684.2 306.1L683.2 309.8L682.4 307.1L681.6 309.6L680.4 306.9L679.5 310L678.4 307L677.2 310.6L676.4 308.4L675.2 311.6L674.4 308.6L673.6 312.2L672.6 308.2L671.2 312.9L670 308.6L669 313.9L668 308.7L666.9 316.5L665.9 309.3L665 316.8L664.1 309.6L663.1 316.4L662.2 310.6L661.3 318.7L660 311.1L658.8 315.9L657.5 311.9L656.3 317.2L655.2 312.4L654.4 314.9L653.5 311.9L652.4 315.3L651.4 312.6L650.1 319.5L648.8 312.5L647.6 318.2L646.5 314.3L645.7 321L644.5 314.5L643.6 321.1L642.3 314L641.3 317.8L640.1 315L638.8 319L638 315.6L637.1 323.1L636 315.9L635 322.5L634.3 315.4L633.4 323.7L632.1 316.1L631 320.5L629.9 317.1L628.7 320.5L627.9 316.9L626.8 320.3L625.7 318.1L624.9 324.2L623.7 317.8L623 323.1L621.7 319.1L620.7 321.5L619.6 319L618.4 325.3L617.4 319.5L616.2 325L614.9 319.3L613.6 324.2L612.4 319.8L611.6 327.1L610.5 321.3L609.4 327L608.4 321.5L607.3 325.1L606.2 321.4L604.9 324.6L603.7 321.9L602.7 327.5L601.4 322.7L600.1 325.4L598.9 322.2L598 326.4L596.7 322.9L595.4 328.7L594.3 323.5L593.1 327.8L591.8 323.8L590.6 327.4L589.5 324.4L588.7 333.1L587.3 324.7L586.4 330.4L585.2 325.6L584.2 330L583 325.9L582.3 329.3L580.9 326.2L579.8 331.8L578.5 326.1L577.7 333L577 327L576.1 335.2L575 327.5L573.9 330.4L572.7 327L571.4 334.2L570.1 328.4L569.1 331.4L568.3 328.9L567.2 332.2L566.2 329.2L565.4 334.5L564.6 329.3L563.6 334L562.7 328.8L561.9 334.8L561.1 330.2L559.8 333L558.8 330.8L557.7 335.4L556.4 330L555.4 338.9L554.5 330.1L553.7 335.8L552.5 331.5L551.7 335.2L550.8 332.1L549.6 335L548.4 331.7L547.5 340.1L546.3 331.9L545.4 340.6L544.1 332.5L543.3 338.3L542.5 332.6L541.5 336.3L540.4 333L539.1 336.2L537.8 333.6L536.9 339.1L535.6 332.2L534.4 338L533.5 331.2L532.6 338.2L531.4 330.7L530.1 334L529.3 329.5L528.4 335.1L527.1 329.3L526 335L525 328.1L523.7 332.9L522.6 328.3L521.7 333.6L520.5 327.6L519.7 332.6L518.6 326.2L517.8 330.7L517 326L516.1 329.8L515.1 325.7L513.9 332.3L513 323.8L512.1 327.1L510.8 323.4L510 328.1L508.8 323.4L507.6 325.5L506.6 322L505.7 326.2L504.4 320.5L503.5 326.6L502.3 321.1L500.9 323.9L500 319.1L499.1 326.1L498.1 319.3L497.3 322L496.2 317.8L495.4 321.3L494.2 318L493.3 324.9L492.3 316.8L491.2 323.9L490.4 316L489.1 321.6L488.4 316.4L487.6 320.4L486.7 315.6L485.9 319.9L484.6 315.1L483.3 317.3L482.4 314.6L481.6 317.6L480.7 313.2L479.4 316.3L478.3 312.4L477.5 320.1L476.5 312.7L475.2 316.2L474.2 311L472.8 314L472 311.2L471.2 318.5L470 310.1L468.6 315.6L467.7 309.4L466.4 313.1L465.4 308L464.2 313.6L463.4 308.1L462.5 312.8L461.6 306.9L460.7 310.5L459.5 306.4L458.2 310.1L456.9 305.6L455.5 311.1L454.6 305.7L453.6 308.3L452.4 304L451.4 312.2L450.2 303.5L449.2 308.3L447.9 303.8L446.9 306.7L445.9 302.2L445.1 309.1L444.2 302.2L443.4 306.7L442.6 302.3L441.5 308.3L440.8 301.3L439.9 305.6L438.8 299.7L437.7 303.3L436.3 299.5L435 305.3L434.2 298.8L433 306.4L431.8 297.7L431 301.9L430.1 297.5L429.3 300.4L428.1 296.4L426.9 304.2L425.9 296.6L425 301.4L423.9 295.5L422.9 298.9L421.8 294.8L420.5 295.2L419.4 289.7L418.4 292.8Z"/><path id="t1" d="M418.4 274L419.4 281L420.5 276.1L421.8 277.6L422.9 273.8L423.9 277L425 270.4L425.9 277.2L426.9 265.8L428.1 275.7L429.3 265.5L430.1 275.8L431 261L431.8 275.6L433 262L434.2 274.9L435 270L436.3 274.9L437.7 261.9L438.8 274.5L439.9 255.5L440.8 273.9L441.5 256.8L442.6 272.8L443.4 265.4L444.2 273.1L445.1 268.7L445.9 271.7L446.9 267.6L447.9 272.3L449.2 267.2L450.2 271.7L451.4 259.4L452.4 270.8L453.6 266.6L454.6 270.4L455.5 257.7L456.9 269.9L458.2 260.2L459.5 269.1L460.7 252.7L461.6 269.3L462.5 259.9L463.4 268L464.2 259.8L465.4 267.3L466.4 259.1L467.7 267.9L468.6 259L470 266.3L471.2 259.6L472 267.1L472.8 258.3L474.2 265.9L475.2 249.5L476.5 265.2L477.5 254.9L478.3 264.5L479.4 261.1L480.7 264.2L481.6 258.4L482.4 264.4L483.3 251.4L484.6 263.7L485.9 258.7L486.7 263.1L487.6 255.9L488.4 262.3L489.1 252.1L490.4 262.4L491.2 252L492.3 261.6L493.3 247.5L494.2 261.3L495.4 244.4L496.2 261.8L497.3 256.6L498.1 261L499.1 256.4L500 260.1L500.9 255.9L502.3 260L503.5 254.7L504.4 259.9L505.7 254.8L506.6 259.2L507.6 246.9L508.8 257.6L510 254.2L510.8 257.9L512.1 253.2L513 256.9L513.9 238.6L515.1 256.3L516.1 239.1L517 256.9L517.8 248.4L518.6 256L519.7 252.1L520.5 256.2L521.7 247.8L522.6 255.1L523.7 250.5L525 253.9L526 240.4L527.1 254.7L528.4 246.9L529.3 253.7L530.1 239.4L531.4 253.9L532.6 239.4L533.5 252.6L534.4 236.8L535.6 252.7L536.9 245L537.8 251.2L539.1 243.6L540.4 251L541.5 240.5L542.5 251.4L543.3 244.5L544.1 250.5L545.4 243.4L546.3 250.1L547.5 236.5L548.4 248.7L549.6 236.5L550.8 248.8L551.7 244L552.5 247.9L553.7 231.9L554.5 248.1L555.4 238.4L556.4 247.9L557.7 243.4L558.8 247.5L559.8 229.9L561.1 246.6L561.9 238.1L562.7 245.6L563.6 238.9L564.6 246L565.4 240.1L566.2 245.6L567.2 233L568.3 244.3L569.1 241L570.1 245L571.4 228.1L572.7 243.4L573.9 226.4L575 244.7L576.1 236.4L577 244.2L577.7 227.7L578.5 245L579.8 231.1L580.9 245.2L582.3 238.5L583 245.8L584.2 242.6L585.2 247.3L586.4 242.1L587.3 247.6L588.7 239.2L589.5 249L590.6 243.6L591.8 249.6L593.1 238.9L594.3 249.4L595.4 240.7L596.7 250.7L598 246.2L598.9 251.9L600.1 235.7L601.4 251.2L602.7 245L603.7 251.9L604.9 249L606.2 253.6L607.3 243L608.4 253.9L609.4 248L610.5 255.1L611.6 250.7L612.4 255.3L613.6 250.6L614.9 255.5L616.2 249.7L617.4 257.3L618.4 247.7L619.6 257.9L620.7 251.1L621.7 258.4L623 254.3L623.7 258.5L624.9 253.2L625.7 258.4L626.8 248.2L627.9 259.4L628.7 248.1L629.9 259.8L631 248.2L632.1 260.4L633.4 251.8L634.3 262.3L635 254.4L636 261.8L637.1 255.5L638 263.3L638.8 256.5L640.1 263.1L641.3 256.9L642.3 264.1L643.6 255.3L644.5 264.7L645.7 251.8L646.5 264.9L647.6 256.9L648.8 266L650.1 255.3L651.4 266L652.4 253.2L653.5 266.7L654.4 251.3L655.2 268L656.3 255.3L657.5 268.1L658.8 255.6L660 269.6L661.3 263.5L662.2 270.1L663.1 261.2L664.1 270.7L665 263.6L665.9 271.2L666.9 257.1L668 272.2L669 261.1L670 272.5L671.2 265.3L672.6 272.4L673.6 254.7L674.4 273L675.2 266.5L676.4 274.8L677.2 268.5L678.4 274.9L679.5 270.6L680.4 275.2L681.6 261.3L682.4 275.3L683.2 271.8L684.2 276.7L685 272.4L686.2 276.7L687.1 267.8L687.9 277.6L688.7 271.9L689.8 278.6L690.9 274.6L692 281.8L693.1 279.9L693.6 284.9L692 286.1L688.7 280.7L686.2 283.6L683.2 281.3L680.4 278.6L677.2 281.3L674.4 277L671.2 279.1L668 274.2L665 276L662.2 276.4L658.8 276.4L655.2 274.8L652.4 270.4L648.8 271L645.7 270.1L642.3 269L638.8 270L636 264.8L633.4 268.7L629.9 263L626.8 263.9L623.7 262.5L620.7 264.7L617.4 260.4L613.6 261.3L610.5 259.7L607.3 256.9L603.7 255L600.1 254.5L596.7 255.9L593.1 256.6L589.5 251.4L586.4 254.1L583 252.4L579.8 250.3L577 252.1L573.9 249.7L570.1 247.4L567.2 250L564.6 249.8L561.9 251.5L558.8 254.1L555.4 254.1L552.5 251.4L549.6 254.6L546.3 256.5L543.3 257L540.4 256L536.9 256.1L533.5 255.3L530.1 259.1L527.1 258.1L523.7 258.8L520.5 257.7L517.8 261.6L515.1 262.5L512.1 263.9L508.8 265.7L505.7 264.8L502.3 263.9L499.1 262.5L496.2 265.4L493.3 265.5L490.4 266.5L487.6 269.6L484.6 269.9L481.6 269.9L478.3 269.9L475.2 270.1L472 273.6L468.6 269.6L465.4 272.2L462.5 271.3L459.5 272.1L455.5 273.4L452.4 273.3L449.2 276.9L445.9 279L443.4 277.1L440.8 276.4L437.7 280.1L434.2 280.7L431 278.1L428.1 279L425 279.4L421.8 284.3L418.4 287.1Z"/></defs>
<g filter="url(#bl1)">
<use href="#s1" fill="#0a1d23"/>
<use href="#s1" filter="url(#ta1)"/>
<use href="#s1" filter="url(#tg1)" opacity="0.8"/>
<use href="#b1" fill="#0f3a58" opacity="0.45"/>
<use href="#b1" filter="url(#tb1)"/>
<use href="#b1" filter="url(#tq1)"/>
<use href="#s1" filter="url(#tb1)" opacity="0.35"/>
<use href="#s1" filter="url(#tk1)"/>
<use href="#s1" filter="url(#ty1)" opacity="0.3"/>
<use href="#t1" fill="#04090b" opacity="0.5"/>
<path d="M535.8 333L538.6 342.5L540.8 333Z" fill="#0b2238"/>
<path d="M441.4 272.9L441.9 263.5L442.5 272.9ZM686.4 277L687.1 259.5L687.8 277ZM503.5 259.1L504.2 244L505 259.1ZM523.4 254.6L524.1 240.2L524.9 254.6ZM425.1 276.5L425.8 265.6L426.5 276.5ZM459.2 268.9L459.9 256.3L460.6 268.9ZM467.6 267.1L468.2 253.3L468.7 267.1ZM573.6 243.6L574.3 231.5L575 243.6ZM431 275.2L431.6 260.1L432.1 275.2ZM679 274.8L679.7 260.3L680.3 274.8ZM531.4 252.8L532.2 238.1L532.9 252.8ZM624.8 258.7L625.5 242.9L626.1 258.7ZM688.4 277.6L689.2 261L689.9 277.6ZM530.8 253L531.5 240L532.2 253ZM664.4 270.5L665.1 256.6L665.8 270.5ZM537.1 251.6L537.8 234.4L538.4 251.6ZM435.3 274.2L436.1 258.7L436.9 274.2ZM617.7 256.7L618.5 242.2L619.2 256.7ZM502.9 259.2L503.4 244.8L504 259.2ZM454.2 270.1L454.9 256.9L455.6 270.1ZM527.5 253.7L528.2 244.1L528.9 253.7ZM562.5 245.9L563.1 234.6L563.7 245.9ZM527.4 253.8L527.9 242.5L528.4 253.8ZM666 271L666.7 253.3L667.5 271ZM653.9 267.4L654.7 254.5L655.4 267.4ZM480.4 264.2L481.1 248.4L481.8 264.2ZM663.8 270.3L664.6 260.3L665.4 270.3ZM453.9 270.1L454.7 256.2L455.6 270.1ZM421 277.5L421.6 266.1L422.2 277.5ZM508 258L508.8 248.3L509.6 258ZM640.3 263.3L640.9 250.6L641.5 263.3ZM578.5 245L579 235.4L579.5 245ZM662.6 269.9L663.3 258L664 269.9ZM672.2 272.8L672.8 255L673.5 272.8ZM476.2 265.1L477 253.3L477.8 265.1ZM662 269.8L662.8 258.9L663.6 269.8ZM516.2 256.3L516.7 242.9L517.3 256.3ZM657.6 268.4L658.2 250.5L658.8 268.4ZM590.8 248.7L591.6 237.8L592.4 248.7ZM434.1 274.5L434.9 264.4L435.6 274.5ZM504.9 258.7L505.7 241.6L506.5 258.7ZM612.6 255.2L613.4 244.8L614.1 255.2ZM673.3 273.1L673.9 260L674.4 273.1ZM480.7 264.1L481.5 252.2L482.2 264.1ZM473.7 265.7L474.3 254.9L474.9 265.7ZM599.7 251.3L600.3 235.1L600.9 251.3ZM598.9 251.1L599.6 234.1L600.3 251.1ZM482.2 263.8L483 251.9L483.9 263.8ZM600.2 251.5L601 239.8L601.7 251.5ZM445 272.1L445.6 254.3L446.3 272.1ZM563.1 245.8L563.6 231.9L564.1 245.8ZM582.3 246.1L582.8 234.4L583.4 246.1ZM637 262.3L637.6 252.4L638.2 262.3ZM624.2 258.6L624.8 247.2L625.4 258.6ZM568.1 244.6L568.9 233.8L569.8 244.6ZM686.6 277.1L687.3 267.6L688 277.1ZM622.6 258.1L623.5 245.6L624.3 258.1ZM555.3 247.5L556 236.7L556.7 247.5ZM594.3 249.7L595 237.4L595.8 249.7ZM631.5 260.7L632.2 247L632.9 260.7ZM648.3 265.7L649 250.5L649.7 265.7ZM676.8 274.2L677.6 263.4L678.3 274.2ZM465.3 267.6L465.9 253.1L466.4 267.6ZM539.2 251.1L540 235.1L540.7 251.1ZM633.7 261.4L634.4 250.1L635 261.4ZM480.3 264.2L481 249.9L481.6 264.2ZM430.2 275.4L430.9 260.9L431.7 275.4ZM575 244L575.6 227.1L576.1 244ZM461.6 268.4L462.3 259.1L462.9 268.4ZM537.8 251.4L538.4 238.3L539 251.4ZM635.5 262L636.4 252.1L637.2 262ZM573.8 243.7L574.5 229.7L575.3 243.7ZM484.9 263.2L485.5 252.8L486.1 263.2ZM432.1 275L432.8 263L433.5 275ZM562.1 246L562.9 234.5L563.6 246ZM444.7 272.2L445.2 255.8L445.8 272.2ZM489.3 262.2L490 251.6L490.7 262.2ZM644.6 264.6L645.1 248.4L645.6 264.6ZM531.4 252.9L531.9 240.5L532.5 252.9ZM682 275.7L682.7 266.1L683.3 275.7ZM625.8 259L626.3 241.1L626.9 259ZM543.5 250.2L544 234.4L544.5 250.2ZM485.6 263.1L486.2 246L486.7 263.1ZM526.5 253.9L527.2 242.1L527.8 253.9ZM441.1 272.9L442 263.4L442.8 272.9ZM626.3 259.2L626.9 243.5L627.5 259.2ZM489 262.3L489.6 248.3L490.1 262.3ZM545 249.8L545.7 232.4L546.3 249.8ZM511.4 257.3L512.1 239.5L512.8 257.3ZM431.4 275.1L432.1 262.4L432.8 275.1ZM436.4 274L437.2 261.8L437.9 274ZM653.3 267.2L654.1 252.8L654.9 267.2ZM545.1 249.8L545.9 237.1L546.7 249.8ZM523.4 254.6L524 238.6L524.6 254.6ZM514.2 256.7L514.9 245.9L515.6 256.7ZM464.9 267.7L465.5 256.7L466.1 267.7ZM546.7 249.5L547.3 237.5L548 249.5ZM688 277.5L688.8 262.3L689.6 277.5ZM475.9 265.2L476.5 252.7L477 265.2ZM606.9 253.4L607.5 241L608.1 253.4ZM425.8 276.4L426.4 265.6L427 276.4ZM526.4 253.9L527.2 236.6L527.9 253.9ZM493.2 261.4L493.7 249L494.3 261.4ZM672.8 273L673.5 260.6L674.3 273ZM615.6 256L616.2 238.8L616.7 256ZM507.6 258.2L508.1 245.6L508.6 258.2ZM658.2 268.7L658.9 256.6L659.7 268.7ZM560.6 246.4L561.2 236.7L561.8 246.4ZM485 263.2L485.6 253.7L486.1 263.2ZM581.1 245.8L581.7 236.3L582.3 245.8ZM535 252.1L535.6 238.1L536.1 252.1ZM610.9 254.6L611.6 243.1L612.4 254.6ZM600.2 251.4L600.7 240.9L601.3 251.4ZM496.2 260.7L496.9 245.2L497.5 260.7ZM524.9 254.3L525.4 237.5L526 254.3ZM499.5 260L500 247.8L500.6 260ZM431.6 275.1L432.4 265.7L433.1 275.1ZM572.9 243.6L573.8 227.2L574.6 243.6ZM500.8 259.6L501.6 244.5L502.5 259.6ZM478.9 264.5L479.6 249.3L480.3 264.5Z" fill="#141c20" opacity="0.8"/>
</g>
<text x="463.9" y="354.0" font-size="11.4" text-anchor="middle" font-family="Liberation Serif, serif" fill="#333333" transform="rotate(17 463.9 354.0)">Neuron #</text>
<text x="645.3" y="358.7" font-size="11.4" text-anchor="middle" font-family="Liberation Serif, serif" fill="#333333" transform="rotate(-9.7 645.3 358.7)">Neuron #</text>
<text x="375.7" y="277.5" font-size="11.1" text-anchor="middle" font-family="Liberation Serif, serif" fill="#333333" transform="rotate(-90 375.7 277.5)">Difference of neural cross-</text>
<text x="388.4" y="277.5" font-size="11.1" text-anchor="middle" font-family="Liberation Serif, serif" fill="#333333" transform="rotate(-90 388.4 277.5)">correlation between Sti.1 and Sti.2</text>
<path d="M424.9 552.1L576.3 523.3M541 588L424.9 552.1M424.9 552.1L424.9 475.3M576.3 523.3L576.3 449.6M439.4 556.6L591.3 528.1M560.4 584.8L443.8 548.5M443.8 548.5L443.8 472.1M591.3 528.1L591.3 453.7M453.9 561.1L606.2 533M579.8 581.5L462.8 544.9M462.8 544.9L462.8 468.9M606.2 533L606.2 457.7M468.4 565.6L621.2 537.8M599.1 578.2L481.7 541.3M481.7 541.3L481.7 465.7M621.2 537.8L621.2 461.8M482.9 570L636.1 542.6M618.5 575L500.6 537.7M500.6 537.7L500.6 462.5M636.1 542.6L636.1 465.8M497.5 574.5L651.1 547.5M637.9 571.8L519.5 534.1M519.5 534.1L519.5 459.2M651.1 547.5L651.1 469.9M512 579L666.1 552.3M657.2 568.5L538.4 530.5M538.4 530.5L538.4 456M666.1 552.3L666.1 473.9M526.5 583.5L681 557.2M676.6 565.2L557.4 526.9M557.4 526.9L557.4 452.8M681 557.2L681 477.9M541 588L696 562M696 562L576.3 523.3M576.3 523.3L576.3 449.6M696 562L696 482M424.9 552.1L576.3 523.3L696 562M424.9 539.3L576.3 511L696 548.7M424.9 526.5L576.3 498.7L696 535.3M424.9 513.7L576.3 486.4L696 522M424.9 500.9L576.3 474.2L696 508.7M424.9 488.1L576.3 461.9L696 495.3M424.9 475.3L576.3 449.6L696 482" fill="none" stroke="#efefef" stroke-width="0.5"/>
<path d="M424.9 475.3L424.9 552.1L541.0 588.0L696.0 562.0" fill="none" stroke="#ababab" stroke-width="0.55"/>
<text x="421.3" y="553.3" font-size="3.6" text-anchor="end" font-family="Liberation Sans, sans-serif" fill="#7a7a7a">-1.5</text>
<text x="421.3" y="540.5" font-size="3.6" text-anchor="end" font-family="Liberation Sans, sans-serif" fill="#7a7a7a">-1</text>
<text x="421.3" y="527.7" font-size="3.6" text-anchor="end" font-family="Liberation Sans, sans-serif" fill="#7a7a7a">-0.5</text>
<text x="421.3" y="514.9" font-size="3.6" text-anchor="end" font-family="Liberation Sans, sans-serif" fill="#7a7a7a">0</text>
<text x="421.3" y="502.1" font-size="3.6" text-anchor="end" font-family="Liberation Sans, sans-serif" fill="#7a7a7a">0.5</text>
<text x="421.3" y="489.3" font-size="3.6" text-anchor="end" font-family="Liberation Sans, sans-serif" fill="#7a7a7a">1</text>
<text x="421.3" y="476.5" font-size="3.6" text-anchor="end" font-family="Liberation Sans, sans-serif" fill="#7a7a7a">1.5</text>
<text x="420.3" y="557.5" font-size="3.6" text-anchor="middle" font-family="Liberation Sans, sans-serif" fill="#7a7a7a">400</text>
<text x="546.2" y="593.2" font-size="3.6" text-anchor="middle" font-family="Liberation Sans, sans-serif" fill="#7a7a7a">0</text>
<text x="434.8" y="562.0" font-size="3.6" text-anchor="middle" font-family="Liberation Sans, sans-serif" fill="#7a7a7a">350</text>
<text x="565.6" y="590.0" font-size="3.6" text-anchor="middle" font-family="Liberation Sans, sans-serif" fill="#7a7a7a">50</text>
<text x="449.3" y="566.5" font-size="3.6" text-anchor="middle" font-family="Liberation Sans, sans-serif" fill="#7a7a7a">300</text>
<text x="585.0" y="586.7" font-size="3.6" text-anchor="middle" font-family="Liberation Sans, sans-serif" fill="#7a7a7a">100</text>
<text x="463.8" y="571.0" font-size="3.6" text-anchor="middle" font-family="Liberation Sans, sans-serif" fill="#7a7a7a">250</text>
<text x="604.3" y="583.5" font-size="3.6" text-anchor="middle" font-family="Liberation Sans, sans-serif" fill="#7a7a7a">150</text>
<text x="478.3" y="575.4" font-size="3.6" text-anchor="middle" font-family="Liberation Sans, sans-serif" fill="#7a7a7a">200</text>
<text x="623.7" y="580.2" font-size="3.6" text-anchor="middle" font-family="Liberation Sans, sans-serif" fill="#7a7a7a">200</text>
<text x="492.9" y="579.9" font-size="3.6" text-anchor="middle" font-family="Liberation Sans, sans-serif" fill="#7a7a7a">150</text>
<text x="643.1" y="577.0" font-size="3.6" text-anchor="middle" font-family="Liberation Sans, sans-serif" fill="#7a7a7a">250</text>
<text x="507.4" y="584.4" font-size="3.6" text-anchor="middle" font-family="Liberation Sans, sans-serif" fill="#7a7a7a">100</text>
<text x="662.5" y="573.7" font-size="3.6" text-anchor="middle" font-family="Liberation Sans, sans-serif" fill="#7a7a7a">300</text>
<text x="521.9" y="588.9" font-size="3.6" text-anchor="middle" font-family="Liberation Sans, sans-serif" fill="#7a7a7a">50</text>
<text x="681.8" y="570.5" font-size="3.6" text-anchor="middle" font-family="Liberation Sans, sans-serif" fill="#7a7a7a">350</text>
<text x="536.4" y="593.4" font-size="3.6" text-anchor="middle" font-family="Liberation Sans, sans-serif" fill="#7a7a7a">0</text>
<text x="701.2" y="567.2" font-size="3.6" text-anchor="middle" font-family="Liberation Sans, sans-serif" fill="#7a7a7a">400</text>
<path d="M424.9 552.1h-2.2M424.9 539.3h-2.2M424.9 526.5h-2.2M424.9 513.7h-2.2M424.9 500.9h-2.2M424.9 488.1h-2.2M424.9 475.3h-2.2M424.9 552.1l-1.6 1.1M541 588l1.6 1.1M439.4 556.6l-1.6 1.1M560.4 584.8l1.6 1.1M453.9 561.1l-1.6 1.1M579.8 581.5l1.6 1.1M468.4 565.6l-1.6 1.1M599.1 578.2l1.6 1.1M482.9 570l-1.6 1.1M618.5 575l1.6 1.1M497.5 574.5l-1.6 1.1M637.9 571.8l1.6 1.1M512 579l-1.6 1.1M657.2 568.5l1.6 1.1M526.5 583.5l-1.6 1.1M676.6 565.2l1.6 1.1M541 588l-1.6 1.1M696 562l1.6 1.1" fill="none" stroke="#ababab" stroke-width="0.45"/>
<defs><filter id="ta2" filterUnits="userSpaceOnUse" x="421" y="448" width="274" height="128" color-interpolation-filters="sRGB"><feTurbulence type="fractalNoise" baseFrequency="0.9 0.17" numOctaves="2" seed="23"/><feColorMatrix values="0 0 0 0 0.08 0 0 0 0 0.33 0 0 0 0 0.36 5.0 0 0 0 -2.75"/><feComposite in2="SourceAlpha" operator="in"/></filter><filter id="tg2" filterUnits="userSpaceOnUse" x="421" y="448" width="274" height="128" color-interpolation-filters="sRGB"><feTurbulence type="fractalNoise" baseFrequency="0.9 0.17" numOctaves="2" seed="24"/><feColorMatrix values="0 0 0 0 0.18 0 0 0 0 0.48 0 0 0 0 0.4 6.5 0 0 0 -3.8"/><feComposite in2="SourceAlpha" operator="in"/></filter><filter id="tb2" filterUnits="userSpaceOnUse" x="421" y="448" width="274" height="128" color-interpolation-filters="sRGB"><feTurbulence type="fractalNoise" baseFrequency="0.85 0.035" numOctaves="2" seed="25"/><feColorMatrix values="0 0 0 0 0.1 0 0 0 0 0.32 0 0 0 0 0.5 5.5 0 0 0 -2.5"/><feComposite in2="SourceAlpha" operator="in"/></filter><filter id="tk2" filterUnits="userSpaceOnUse" x="421" y="448" width="274" height="128" color-interpolation-filters="sRGB"><feTurbulence type="fractalNoise" baseFrequency="0.9 0.17" numOctaves="2" seed="26"/><feColorMatrix values="0 0 0 0 0.0 0 0 0 0 0.03 0 0 0 0 0.04 5.5 0 0 0 -2.5"/><feComposite in2="SourceAlpha" operator="in"/></filter><filter id="tq2" filterUnits="userSpaceOnUse" x="421" y="448" width="274" height="128" color-interpolation-filters="sRGB"><feTurbulence type="fractalNoise" baseFrequency="0.85 0.035" numOctaves="2" seed="28"/><feColorMatrix values="0 0 0 0 0.0 0 0 0 0 0.03 0 0 0 0 0.05 6.0 0 0 0 -2.75"/><feComposite in2="SourceAlpha" operator="in"/></filter><filter id="ty2" filterUnits="userSpaceOnUse" x="421" y="448" width="274" height="128" color-interpolation-filters="sRGB"><feTurbulence type="fractalNoise" baseFrequency="0.8 0.4" numOctaves="1" seed="27"/><feColorMatrix values="0 0 0 0 0.5 0 0 0 0 0.45 0 0 0 0 0.28 9.0 0 0 0 -6.1"/><feComposite in2="SourceAlpha" operator="in"/></filter><filter id="bl2" filterUnits="userSpaceOnUse" x="419" y="446" width="278" height="132"><feGaussianBlur stdDeviation="0.4"/></filter><path id="s2" d="M424.6 513.9L425.9 515.4L426.8 510L427.5 513.3L428.9 508.3L429.7 512.3L430.5 509.2L431.7 512.2L432.6 508.5L433.9 512.1L434.8 508.3L436.2 511.6L437.1 507.4L438.2 511.7L439.5 506.3L440.7 510.1L442 502.7L443.2 510.6L444 502.7L445.2 509.3L446.4 503.5L447.3 509.5L448.1 503.8L449.4 509.4L450.5 500.7L451.8 508.1L453.1 504.4L454.4 507.4L455.5 503.5L456.7 507.1L457.8 501.1L458.7 506.7L460 501.1L461 506.1L462.2 499.7L463.5 507L464.7 502.2L465.5 505.8L466.7 501.8L467.9 505.6L468.7 500.5L469.5 505.6L470.6 500.9L471.3 505.5L472.7 500.8L473.7 505L474.8 496.6L475.8 503.9L476.9 497.5L478.2 504.1L479.2 499.7L480.1 503.4L481.2 495.5L482.2 502.9L483.3 496.6L484.3 502L485.3 494.7L486.5 501.9L487.6 496.2L488.4 501.6L489.7 495.8L490.7 500.8L491.7 495.3L492.7 501.4L494 493.7L495.3 500L496.4 496.4L497.4 500.5L498.2 494.1L499.5 499.9L500.3 495L501.4 499.3L502.4 495.2L503.3 498.4L504.3 494.5L505.1 499L505.9 491L506.9 498.4L508.2 493.1L509.3 497.3L510.2 490.5L511.4 496.9L512.1 493.5L513.1 496.9L514.4 493L515.7 496.3L516.7 491.5L518 496.7L519 491.9L520.1 495.6L521.2 489.3L522.6 495.7L523.8 491.4L524.8 494.8L526 490.7L527.1 494.1L528.1 486.4L529.3 493.8L530.6 488.9L531.7 493.1L533 486.9L533.8 493.7L534.8 486.4L535.9 492.9L536.9 488.9L537.7 492.2L538.9 488.6L539.9 491.5L540.8 487.9L541.6 491.9L542.9 487.8L543.9 491.7L544.7 486.1L545.6 490.4L546.5 484.2L547.7 490.2L548.6 483.5L549.5 489.8L550.3 483L551.3 489.7L552.2 486.1L553.1 489.9L554.3 482.3L555.7 488.9L556.9 485.2L557.7 489.3L558.7 484.5L559.9 488.8L560.7 481.6L561.5 488.6L562.6 481.5L563.6 488.6L564.8 483.5L566 486.8L567 480.2L567.9 487.1L568.8 483L569.7 486.7L570.4 480.4L571.6 486.8L572.4 480.1L573.7 486.7L574.9 480.2L575.6 485.9L576.7 481.7L577.8 487L578.6 480.6L579.6 486.9L580.4 481.3L581.6 488L582.3 484.1L583.4 487.9L584.8 481.3L586.1 488.9L587 485.2L588 489L588.8 485.9L589.8 489.3L591.1 482.3L592.3 490.7L593.1 484.1L594 490.5L595.2 484.2L596 492.2L597.3 484L598.6 492.9L599.6 485.7L600.6 493L601.9 487L602.9 493.7L603.8 489.8L604.7 494.6L605.5 489.8L606.8 494.5L607.9 490.7L609 494.9L610.3 489.6L611.6 496.2L612.5 490.3L613.5 496.4L614.8 490.4L616 496.6L617 491.6L618.1 497.7L619 494.3L619.8 498.7L620.6 493.3L621.5 498.9L622.4 495.2L623.5 499L624.8 494.9L625.7 500.4L626.7 495.4L628 501.1L629.1 497L630.2 501.4L631.4 496.8L632.2 501.8L633.5 497L634.7 502.8L635.9 496.9L637.2 503.5L638 497.4L638.7 504L639.6 496.2L640.6 503.7L642 500.7L643.3 504.2L644.3 499.4L645.4 504.9L646.6 501.7L647.5 506.3L648.9 501.5L650.2 506.8L651.4 499.6L652.7 507L654 503.9L655.1 508L656 503.3L656.9 507.9L657.8 504.1L658.6 508.5L659.9 503.3L660.8 509.6L661.6 501.8L662.5 510.7L663.3 503.2L664.3 510.4L665.3 503.5L666.1 511.2L667.2 504.9L668.2 512L669.1 508.2L670.4 512.6L671.3 507.3L672.4 512.6L673.7 508.8L675 513.8L676 509.2L676.7 514.7L678.1 510.7L679.1 515.2L680 510.2L680.8 515.5L681.7 509.2L682.6 516.5L683.5 510.8L684.2 515.9L685.6 510.8L686.8 517L687.6 513.9L688.7 517.8L689.9 515.2L691 520.5L691.8 518.9L691.8 521.7L691.8 532.9L691.8 536.9L691 535L689.9 544.8L688.7 539.6L687.6 546.5L686.8 539.5L685.6 546.6L684.2 540.5L683.5 543.9L682.6 540.8L681.7 548L680.8 540.3L680 545.8L679.1 540.3L678.1 545.5L676.7 540.8L676 545.9L675 541.9L673.7 546.2L672.4 541.5L671.3 545.2L670.4 542.5L669.1 546.5L668.2 542.4L667.2 545.8L666.1 542.6L665.3 550.2L664.3 543.6L663.3 547.9L662.5 543.4L661.6 549.2L660.8 544.4L659.9 548L658.6 545.2L657.8 551.2L656.9 544.8L656 551.3L655.1 544.7L654 551L652.7 545.7L651.4 553.4L650.2 545.7L648.9 551.6L647.5 547L646.6 551.2L645.4 547L644.3 551.3L643.3 547.6L642 555.3L640.6 548L639.6 555.7L638.7 548L638 553.6L637.2 549L635.9 556.3L634.7 549.3L633.5 554.8L632.2 549L631.4 552.5L630.2 550L629.1 557L628 550.5L626.7 555.2L625.7 550.5L624.8 558.5L623.5 550.5L622.4 554L621.5 551.8L620.6 556.5L619.8 552.3L619 556.3L618.1 552.5L617 558.4L616 552.5L614.8 557.2L613.5 552.9L612.5 556L611.6 552.6L610.3 558.6L609 554L607.9 557.5L606.8 554.3L605.5 557.6L604.7 554.4L603.8 558.8L602.9 555.2L601.9 558.3L600.6 555.2L599.6 558.6L598.6 554.9L597.3 561.7L596 556.4L595.2 559.8L594 556.5L593.1 559.6L592.3 557.3L591.1 562.9L589.8 556.9L588.8 560.3L588 557.5L587 560.9L586.1 558.6L584.8 562.1L583.4 558.6L582.3 564.1L581.6 558.4L580.4 564.9L579.6 559.9L578.6 564.1L577.8 558.8L576.7 566.7L575.6 559.6L574.9 564L573.7 560.2L572.4 565.2L571.6 560.7L570.4 568.3L569.7 561.2L568.8 565.1L567.9 561.2L567 566.1L566 562.2L564.8 566.3L563.6 562.1L562.6 567L561.5 562.5L560.7 567L559.9 562.5L558.7 566.3L557.7 563L556.9 567.2L555.7 564.3L554.3 568L553.1 564.1L552.2 568.3L551.3 564.6L550.3 569.1L549.5 565.4L548.6 568.5L547.7 565.9L546.5 569.8L545.6 566.5L544.7 571.2L543.9 566.3L542.9 571.7L541.6 567.4L540.8 571.5L539.9 566.4L538.9 569.1L537.7 565.9L536.9 569.8L535.9 565L534.8 568.9L533.8 563.9L533 566.7L531.7 563.6L530.6 567.9L529.3 563.3L528.1 569.4L527.1 562.2L526 564.6L524.8 560.4L523.8 564.1L522.6 560.5L521.2 563.4L520.1 559.7L519 561.8L518 558.8L516.7 562.1L515.7 557.1L514.4 562.5L513.1 556.9L512.1 559.6L511.4 556.4L510.2 562.2L509.3 555.7L508.2 557.8L506.9 554L505.9 560.5L505.1 554.6L504.3 560.6L503.3 552.8L502.4 556.9L501.4 553.2L500.3 555.3L499.5 551.9L498.2 555.4L497.4 551.2L496.4 554.7L495.3 551.8L494 554.8L492.7 550.6L491.7 552.8L490.7 550L489.7 555.6L488.4 549.3L487.6 555.4L486.5 549.1L485.3 552.3L484.3 547.2L483.3 552.1L482.2 546.6L481.2 554.1L480.1 547.2L479.2 550L478.2 546.2L476.9 548.9L475.8 545.5L474.8 550.2L473.7 544.7L472.7 547.3L471.3 544.8L470.6 546.9L469.5 543.4L468.7 547.5L467.9 543.4L466.7 545.6L465.5 542.4L464.7 545L463.5 541.8L462.2 544.4L461 541.2L460 544.1L458.7 540.6L457.8 543.4L456.7 539.5L455.5 545.6L454.4 539L453.1 544.6L451.8 538.5L450.5 542.9L449.4 537.9L448.1 541L447.3 537.5L446.4 541.6L445.2 536.5L444 542.3L443.2 536.3L442 540.3L440.7 535.3L439.5 539.6L438.2 534.7L437.1 539.6L436.2 534.2L434.8 540.6L433.9 533L432.6 537.1L431.7 532.1L430.5 535.2L429.7 532.7L428.9 535.5L427.5 530.9L426.8 532.5L425.9 528L424.6 532.1Z"/><path id="b2" d="M424.6 512.6L427.5 520L430.5 520.4L433.9 522.3L437.1 523L440.7 524.3L444 523.5L447.3 526L450.5 526.9L454.4 526.8L457.8 527.1L461 528.3L464.7 531L467.9 532.4L470.6 531L473.7 532.3L476.9 533.7L480.1 533.7L483.3 536.1L486.5 537.6L489.7 538.5L492.7 537.7L496.4 540.6L499.5 541.2L502.4 540.4L505.1 543L508.2 544.3L511.4 545.3L514.4 546.1L518 547.5L521.2 548L524.8 548L528.1 550.8L531.7 551.7L534.8 551.9L537.7 552.9L540.8 555.9L543.9 555.8L546.5 553.1L549.5 552.4L552.2 553.5L555.7 551.8L558.7 552.6L561.5 551L564.8 551L567.9 548.6L570.4 549.9L573.7 547.8L576.7 547.8L579.6 547.3L582.3 546.4L586.1 545.5L588.8 545.5L592.3 543.9L595.2 543.6L598.6 542.9L601.9 544.1L604.7 542.2L607.9 543.3L611.6 542.4L614.8 540L618.1 541.1L620.6 541L623.5 539.1L626.7 538.6L630.2 538.5L633.5 537.4L637.2 536.2L639.6 536.9L643.3 534.9L646.6 534.7L650.2 533.2L654 533.2L656.9 533.9L659.9 531.7L662.5 531.3L665.3 531.3L668.2 530.6L671.3 529.3L675 528.7L678.1 528.5L680.8 529.5L683.5 529L686.8 528.4L689.9 525.8L691.8 522.5L691.8 532.9L691.8 536.9L691 535L689.9 544.8L688.7 539.6L687.6 546.5L686.8 539.5L685.6 546.6L684.2 540.5L683.5 543.9L682.6 540.8L681.7 548L680.8 540.3L680 545.8L679.1 540.3L678.1 545.5L676.7 540.8L676 545.9L675 541.9L673.7 546.2L672.4 541.5L671.3 545.2L670.4 542.5L669.1 546.5L668.2 542.4L667.2 545.8L666.1 542.6L665.3 550.2L664.3 543.6L663.3 547.9L662.5 543.4L661.6 549.2L660.8 544.4L659.9 548L658.6 545.2L657.8 551.2L656.9 544.8L656 551.3L655.1 544.7L654 551L652.7 545.7L651.4 553.4L650.2 545.7L648.9 551.6L647.5 547L646.6 551.2L645.4 547L644.3 551.3L643.3 547.6L642 555.3L640.6 548L639.6 555.7L638.7 548L638 553.6L637.2 549L635.9 556.3L634.7 549.3L633.5 554.8L632.2 549L631.4 552.5L630.2 550L629.1 557L628 550.5L626.7 555.2L625.7 550.5L624.8 558.5L623.5 550.5L622.4 554L621.5 551.8L620.6 556.5L619.8 552.3L619 556.3L618.1 552.5L617 558.4L616 552.5L614.8 557.2L613.5 552.9L612.5 556L611.6 552.6L610.3 558.6L609 554L607.9 557.5L606.8 554.3L605.5 557.6L604.7 554.4L603.8 558.8L602.9 555.2L601.9 558.3L600.6 555.2L599.6 558.6L598.6 554.9L597.3 561.7L596 556.4L595.2 559.8L594 556.5L593.1 559.6L592.3 557.3L591.1 562.9L589.8 556.9L588.8 560.3L588 557.5L587 560.9L586.1 558.6L584.8 562.1L583.4 558.6L582.3 564.1L581.6 558.4L580.4 564.9L579.6 559.9L578.6 564.1L577.8 558.8L576.7 566.7L575.6 559.6L574.9 564L573.7 560.2L572.4 565.2L571.6 560.7L570.4 568.3L569.7 561.2L568.8 565.1L567.9 561.2L567 566.1L566 562.2L564.8 566.3L563.6 562.1L562.6 567L561.5 562.5L560.7 567L559.9 562.5L558.7 566.3L557.7 563L556.9 567.2L555.7 564.3L554.3 568L553.1 564.1L552.2 568.3L551.3 564.6L550.3 569.1L549.5 565.4L548.6 568.5L547.7 565.9L546.5 569.8L545.6 566.5L544.7 571.2L543.9 566.3L542.9 571.7L541.6 567.4L540.8 571.5L539.9 566.4L538.9 569.1L537.7 565.9L536.9 569.8L535.9 565L534.8 568.9L533.8 563.9L533 566.7L531.7 563.6L530.6 567.9L529.3 563.3L528.1 569.4L527.1 562.2L526 564.6L524.8 560.4L523.8 564.1L522.6 560.5L521.2 563.4L520.1 559.7L519 561.8L518 558.8L516.7 562.1L515.7 557.1L514.4 562.5L513.1 556.9L512.1 559.6L511.4 556.4L510.2 562.2L509.3 555.7L508.2 557.8L506.9 554L505.9 560.5L505.1 554.6L504.3 560.6L503.3 552.8L502.4 556.9L501.4 553.2L500.3 555.3L499.5 551.9L498.2 555.4L497.4 551.2L496.4 554.7L495.3 551.8L494 554.8L492.7 550.6L491.7 552.8L490.7 550L489.7 555.6L488.4 549.3L487.6 555.4L486.5 549.1L485.3 552.3L484.3 547.2L483.3 552.1L482.2 546.6L481.2 554.1L480.1 547.2L479.2 550L478.2 546.2L476.9 548.9L475.8 545.5L474.8 550.2L473.7 544.7L472.7 547.3L471.3 544.8L470.6 546.9L469.5 543.4L468.7 547.5L467.9 543.4L466.7 545.6L465.5 542.4L464.7 545L463.5 541.8L462.2 544.4L461 541.2L460 544.1L458.7 540.6L457.8 543.4L456.7 539.5L455.5 545.6L454.4 539L453.1 544.6L451.8 538.5L450.5 542.9L449.4 537.9L448.1 541L447.3 537.5L446.4 541.6L445.2 536.5L444 542.3L443.2 536.3L442 540.3L440.7 535.3L439.5 539.6L438.2 534.7L437.1 539.6L436.2 534.2L434.8 540.6L433.9 533L432.6 537.1L431.7 532.1L430.5 535.2L429.7 532.7L428.9 535.5L427.5 530.9L426.8 532.5L425.9 528L424.6 532.1Z"/><path id="t2" d="M424.6 513.9L425.9 515.4L426.8 510L427.5 513.3L428.9 508.3L429.7 512.3L430.5 509.2L431.7 512.2L432.6 508.5L433.9 512.1L434.8 508.3L436.2 511.6L437.1 507.4L438.2 511.7L439.5 506.3L440.7 510.1L442 502.7L443.2 510.6L444 502.7L445.2 509.3L446.4 503.5L447.3 509.5L448.1 503.8L449.4 509.4L450.5 500.7L451.8 508.1L453.1 504.4L454.4 507.4L455.5 503.5L456.7 507.1L457.8 501.1L458.7 506.7L460 501.1L461 506.1L462.2 499.7L463.5 507L464.7 502.2L465.5 505.8L466.7 501.8L467.9 505.6L468.7 500.5L469.5 505.6L470.6 500.9L471.3 505.5L472.7 500.8L473.7 505L474.8 496.6L475.8 503.9L476.9 497.5L478.2 504.1L479.2 499.7L480.1 503.4L481.2 495.5L482.2 502.9L483.3 496.6L484.3 502L485.3 494.7L486.5 501.9L487.6 496.2L488.4 501.6L489.7 495.8L490.7 500.8L491.7 495.3L492.7 501.4L494 493.7L495.3 500L496.4 496.4L497.4 500.5L498.2 494.1L499.5 499.9L500.3 495L501.4 499.3L502.4 495.2L503.3 498.4L504.3 494.5L505.1 499L505.9 491L506.9 498.4L508.2 493.1L509.3 497.3L510.2 490.5L511.4 496.9L512.1 493.5L513.1 496.9L514.4 493L515.7 496.3L516.7 491.5L518 496.7L519 491.9L520.1 495.6L521.2 489.3L522.6 495.7L523.8 491.4L524.8 494.8L526 490.7L527.1 494.1L528.1 486.4L529.3 493.8L530.6 488.9L531.7 493.1L533 486.9L533.8 493.7L534.8 486.4L535.9 492.9L536.9 488.9L537.7 492.2L538.9 488.6L539.9 491.5L540.8 487.9L541.6 491.9L542.9 487.8L543.9 491.7L544.7 486.1L545.6 490.4L546.5 484.2L547.7 490.2L548.6 483.5L549.5 489.8L550.3 483L551.3 489.7L552.2 486.1L553.1 489.9L554.3 482.3L555.7 488.9L556.9 485.2L557.7 489.3L558.7 484.5L559.9 488.8L560.7 481.6L561.5 488.6L562.6 481.5L563.6 488.6L564.8 483.5L566 486.8L567 480.2L567.9 487.1L568.8 483L569.7 486.7L570.4 480.4L571.6 486.8L572.4 480.1L573.7 486.7L574.9 480.2L575.6 485.9L576.7 481.7L577.8 487L578.6 480.6L579.6 486.9L580.4 481.3L581.6 488L582.3 484.1L583.4 487.9L584.8 481.3L586.1 488.9L587 485.2L588 489L588.8 485.9L589.8 489.3L591.1 482.3L592.3 490.7L593.1 484.1L594 490.5L595.2 484.2L596 492.2L597.3 484L598.6 492.9L599.6 485.7L600.6 493L601.9 487L602.9 493.7L603.8 489.8L604.7 494.6L605.5 489.8L606.8 494.5L607.9 490.7L609 494.9L610.3 489.6L611.6 496.2L612.5 490.3L613.5 496.4L614.8 490.4L616 496.6L617 491.6L618.1 497.7L619 494.3L619.8 498.7L620.6 493.3L621.5 498.9L622.4 495.2L623.5 499L624.8 494.9L625.7 500.4L626.7 495.4L628 501.1L629.1 497L630.2 501.4L631.4 496.8L632.2 501.8L633.5 497L634.7 502.8L635.9 496.9L637.2 503.5L638 497.4L638.7 504L639.6 496.2L640.6 503.7L642 500.7L643.3 504.2L644.3 499.4L645.4 504.9L646.6 501.7L647.5 506.3L648.9 501.5L650.2 506.8L651.4 499.6L652.7 507L654 503.9L655.1 508L656 503.3L656.9 507.9L657.8 504.1L658.6 508.5L659.9 503.3L660.8 509.6L661.6 501.8L662.5 510.7L663.3 503.2L664.3 510.4L665.3 503.5L666.1 511.2L667.2 504.9L668.2 512L669.1 508.2L670.4 512.6L671.3 507.3L672.4 512.6L673.7 508.8L675 513.8L676 509.2L676.7 514.7L678.1 510.7L679.1 515.2L680 510.2L680.8 515.5L681.7 509.2L682.6 516.5L683.5 510.8L684.2 515.9L685.6 510.8L686.8 517L687.6 513.9L688.7 517.8L689.9 515.2L691 520.5L691.8 518.9L691.8 521.7L691.8 525.2L689.9 521.7L686.8 517.1L683.5 518.6L680.8 517.7L678.1 515.1L675 514.7L671.3 512.9L668.2 514.9L665.3 512.5L662.5 511.6L659.9 510.3L656.9 510.6L654 508.9L650.2 508.2L646.6 506.3L643.3 508L639.6 505.1L637.2 505.6L633.5 503.9L630.2 503.4L626.7 500.4L623.5 502.1L620.6 499.8L618.1 498.2L614.8 498.6L611.6 499.3L607.9 497.8L604.7 495.2L601.9 496.6L598.6 494.3L595.2 493.8L592.3 490.9L588.8 491.9L586.1 490L582.3 488.1L579.6 489.8L576.7 486.8L573.7 487.3L570.4 489.2L567.9 487.7L564.8 489.8L561.5 489L558.7 489.7L555.7 491L552.2 491L549.5 493L546.5 492.7L543.9 493.2L540.8 493.8L537.7 493.3L534.8 495L531.7 493.9L528.1 496.8L524.8 497.3L521.2 497.5L518 496.8L514.4 498.9L511.4 497.9L508.2 500.5L505.1 501.5L502.4 501L499.5 501.7L496.4 500.9L492.7 503.1L489.7 502.7L486.5 504.2L483.3 504.7L480.1 503.8L476.9 504.5L473.7 506.9L470.6 507.5L467.9 506.5L464.7 509.3L461 509.5L457.8 509.7L454.4 509.3L450.5 511.4L447.3 512.6L444 512.6L440.7 513.1L437.1 512.8L433.9 515.1L430.5 514.1L427.5 515.5L424.6 518.2Z"/></defs>
<g filter="url(#bl2)">
<use href="#s2" fill="#081a20"/>
<use href="#s2" filter="url(#ta2)"/>
<use href="#s2" filter="url(#tg2)" opacity="0.8"/>
<use href="#b2" fill="#0f3558" opacity="0.8"/>
<use href="#b2" filter="url(#tb2)"/>
<use href="#b2" filter="url(#tq2)"/>
<use href="#s2" filter="url(#tb2)" opacity="0.35"/>
<use href="#s2" filter="url(#tk2)"/>
<use href="#s2" filter="url(#ty2)" opacity="0.3"/>
<use href="#t2" fill="#04090b" opacity="0.35"/>
<path d="M539.0 566.5L541.8000000000001 575.0L544.0 566.5Z" fill="#0b2238"/>
<path d="M547.7 490.4L548.5 481L549.3 490.4ZM669 512L669.8 504.5L670.5 512ZM447.4 509L448.2 500.8L449.1 509ZM591 490.2L591.6 481.1L592.3 490.2ZM546.1 490.7L546.8 484.2L547.5 490.7ZM672.9 513L673.4 506.1L673.9 513ZM590.1 490L590.8 479.4L591.4 490ZM448.8 508.7L449.5 499.1L450.2 508.7ZM487.6 501.5L488.3 491L489 501.5ZM632.4 501.7L633 494.2L633.6 501.7ZM599.9 492.7L600.7 483L601.5 492.7ZM673.5 513.1L674 503.1L674.5 513.1ZM548.5 490.2L549.2 480.5L550 490.2ZM509 497.6L509.7 491L510.4 497.6ZM477.4 503.4L478 494.5L478.6 503.4ZM656.4 508.4L657.1 502L657.8 508.4ZM656.6 508.4L657.1 498.8L657.7 508.4ZM569.9 486.3L570.6 475.7L571.4 486.3ZM663.7 510.4L664.3 499.9L664.9 510.4ZM459.2 506.8L459.9 496.9L460.6 506.8ZM640.5 504L641.2 495.4L642 504ZM464.4 505.8L465.2 495.6L466 505.8ZM638.5 503.4L639.2 493.1L639.9 503.4ZM471.6 504.5L472.2 496.5L472.8 504.5ZM503.2 498.6L503.9 489.3L504.5 498.6ZM598.8 492.4L599.6 481.5L600.4 492.4ZM427.9 512.6L428.6 503.1L429.3 512.6ZM539.7 491.8L540.5 481.7L541.3 491.8ZM491.1 500.9L491.6 491.3L492.2 500.9ZM541.8 491.5L542.6 483.3L543.4 491.5ZM664.7 510.7L665.4 499.9L666.1 510.7ZM612.4 496.2L613.1 486.5L613.8 496.2ZM462.3 506.2L463.2 498.5L464 506.2ZM582.4 487.8L583.1 481L583.7 487.8ZM461.9 506.3L462.5 499.4L463.2 506.3ZM503.2 498.6L503.8 492.3L504.5 498.6ZM669.5 512.1L670.2 503.4L670.8 512.1ZM526.6 494.3L527.3 486.6L527.9 494.3ZM477.6 503.4L478.4 494.8L479.2 503.4ZM522.5 495.1L523.1 484.2L523.8 495.1ZM593.2 490.8L593.8 482L594.5 490.8ZM658.3 508.9L658.8 499.5L659.4 508.9ZM507 497.9L507.7 489.6L508.4 497.9ZM525.5 494.5L526.1 486.8L526.7 494.5ZM686.3 516.8L687.1 506.6L687.9 516.8ZM660.7 509.6L661.4 502.6L662.1 509.6ZM616 497.2L616.7 488.4L617.4 497.2ZM592.3 490.5L592.8 481L593.4 490.5ZM441.3 510.1L441.8 502.4L442.3 510.1ZM507.9 497.8L508.4 491.3L508.9 497.8ZM598.4 492.3L599.2 485L599.9 492.3ZM536.4 492.5L537.1 481.8L537.8 492.5ZM654.6 507.9L655.3 499.4L655.9 507.9ZM669.5 512.1L670.1 502.2L670.8 512.1ZM654.5 507.9L655.2 497.8L656 507.9ZM434.2 511.4L434.8 500.5L435.3 511.4ZM431.4 512L432 503.9L432.5 512ZM489.9 501.1L490.6 492.3L491.3 501.1ZM604.5 494L605.2 483.2L606 494ZM653.3 507.5L653.9 499L654.4 507.5ZM612.6 496.2L613.1 484.7L613.7 496.2ZM587.1 489.2L587.9 480.9L588.8 489.2ZM435.5 511.2L436.1 502.4L436.8 511.2ZM523.5 494.9L524 484.7L524.5 494.9ZM498.9 499.4L499.6 488.1L500.2 499.4ZM430.5 512.1L431.2 502.6L431.9 512.1ZM669.3 512.1L670.1 501.2L671 512.1ZM496 500L496.7 492L497.5 500ZM517.5 496L518 487.8L518.5 496ZM478.8 503.2L479.4 496.2L480 503.2ZM610 495.5L610.6 488.2L611.2 495.5ZM448.4 508.8L449.1 500.4L449.9 508.8ZM583.9 488.2L584.5 478.6L585.2 488.2ZM608.6 495.1L609.4 484.7L610.2 495.1ZM427.1 512.7L427.8 501.6L428.5 512.7Z" fill="#141c20" opacity="0.8"/>
<path d="M565.8 489.5L566.5 483.7L567.3 489.5ZM566.3 489.5L567 483L567.8 489.5ZM566.8 489.5L567.6 482L568.3 489.5ZM567.5 489.5L568.2 481.1L569 489.5ZM568.3 489.5L569.1 479.2L569.8 489.5ZM569 489.5L569.8 478.2L570.5 489.5ZM569.7 489.5L570.5 475.9L571.2 489.5ZM570.1 489.5L570.9 475.3L571.6 489.5ZM570.9 489.5L571.6 473.9L572.4 489.5ZM571.6 489.5L572.4 471L573.1 489.5ZM572.1 489.5L572.9 470L573.6 489.5ZM573 489.5L573.8 468.9L574.5 489.5ZM573.7 489.5L574.4 467.5L575.2 489.5ZM574.2 489.5L574.9 466.2L575.7 489.5ZM574.8 489.5L575.5 464.3L576.3 489.5ZM574.4 489.5L575.4 465L576.5 489.5ZM576 489.5L576.9 476.8L577.8 489.5ZM567.2 489.5L575.1 467.1L576.8 489.5Z" fill="#11191e" opacity="0.9"/>
<path d="M575.4 490.5L541 566" stroke="#2a2f7a" stroke-width="1.4" opacity="0.4" fill="none"/>
</g>
<text x="466.8" y="587.8" font-size="11.4" text-anchor="middle" font-family="Liberation Serif, serif" fill="#333333" transform="rotate(17 466.8 587.8)">Neuron #</text>
<text x="645.6" y="591.9" font-size="11.4" text-anchor="middle" font-family="Liberation Serif, serif" fill="#333333" transform="rotate(-9.7 645.6 591.9)">Neuron #</text>
<text x="375.7" y="515" font-size="11.1" text-anchor="middle" font-family="Liberation Serif, serif" fill="#333333" transform="rotate(-90 375.7 515)">Difference of neural cross-</text>
<text x="388.4" y="516.0" font-size="11.1" text-anchor="middle" font-family="Liberation Serif, serif" fill="#333333" transform="rotate(-90 388.4 516.0)">correlation between Sti.1 and Sti.3</text>
<path d="M420.8 763.6L573.9 733.9M540 799.3L420.8 763.6M420.8 763.6L420.8 685.2M573.9 733.9L573.9 659.4M435.7 768.1L588.7 738.5M559 795.8L439.9 759.9M439.9 759.9L439.9 682M588.7 738.5L588.7 663.4M450.6 772.5L603.4 743.2M578 792.2L459.1 756.2M459.1 756.2L459.1 678.8M603.4 743.2L603.4 667.3M465.5 777L618.2 747.8M597 788.7L478.2 752.5M478.2 752.5L478.2 675.5M618.2 747.8L618.2 671.2M480.4 781.5L633 752.5M616 785.2L497.4 748.7M497.4 748.7L497.4 672.3M633 752.5L633 675.2M495.3 785.9L647.7 757.1M635 781.7L516.5 745M516.5 745L516.5 669.1M647.7 757.1L647.7 679.1M510.2 790.4L662.5 761.8M654 778.1L535.6 741.3M535.6 741.3L535.6 665.9M662.5 761.8L662.5 683.1M525.1 794.8L677.2 766.4M673 774.6L554.8 737.6M554.8 737.6L554.8 662.6M677.2 766.4L677.2 687M540 799.3L692 771.1M692 771.1L573.9 733.9M573.9 733.9L573.9 659.4M692 771.1L692 691M420.8 763.6L573.9 733.9L692 771.1M420.8 747.9L573.9 719L692 755.1M420.8 732.2L573.9 704.1L692 739.1M420.8 716.6L573.9 689.2L692 723M420.8 700.9L573.9 674.3L692 707M420.8 685.2L573.9 659.4L692 691" fill="none" stroke="#efefef" stroke-width="0.5"/>
<path d="M420.8 685.2L420.8 763.6L540.0 799.3L692.0 771.1" fill="none" stroke="#ababab" stroke-width="0.55"/>
<text x="417.2" y="764.8" font-size="3.6" text-anchor="end" font-family="Liberation Sans, sans-serif" fill="#7a7a7a">-1</text>
<text x="417.2" y="749.1" font-size="3.6" text-anchor="end" font-family="Liberation Sans, sans-serif" fill="#7a7a7a">-0.5</text>
<text x="417.2" y="733.4" font-size="3.6" text-anchor="end" font-family="Liberation Sans, sans-serif" fill="#7a7a7a">0</text>
<text x="417.2" y="717.8" font-size="3.6" text-anchor="end" font-family="Liberation Sans, sans-serif" fill="#7a7a7a">0.5</text>
<text x="417.2" y="702.1" font-size="3.6" text-anchor="end" font-family="Liberation Sans, sans-serif" fill="#7a7a7a">1</text>
<text x="417.2" y="686.4" font-size="3.6" text-anchor="end" font-family="Liberation Sans, sans-serif" fill="#7a7a7a">1.5</text>
<text x="416.2" y="769.0" font-size="3.6" text-anchor="middle" font-family="Liberation Sans, sans-serif" fill="#7a7a7a">400</text>
<text x="545.2" y="804.5" font-size="3.6" text-anchor="middle" font-family="Liberation Sans, sans-serif" fill="#7a7a7a">0</text>
<text x="431.1" y="773.5" font-size="3.6" text-anchor="middle" font-family="Liberation Sans, sans-serif" fill="#7a7a7a">350</text>
<text x="564.2" y="801.0" font-size="3.6" text-anchor="middle" font-family="Liberation Sans, sans-serif" fill="#7a7a7a">50</text>
<text x="446.0" y="777.9" font-size="3.6" text-anchor="middle" font-family="Liberation Sans, sans-serif" fill="#7a7a7a">300</text>
<text x="583.2" y="797.5" font-size="3.6" text-anchor="middle" font-family="Liberation Sans, sans-serif" fill="#7a7a7a">100</text>
<text x="460.9" y="782.4" font-size="3.6" text-anchor="middle" font-family="Liberation Sans, sans-serif" fill="#7a7a7a">250</text>
<text x="602.2" y="793.9" font-size="3.6" text-anchor="middle" font-family="Liberation Sans, sans-serif" fill="#7a7a7a">150</text>
<text x="475.8" y="786.9" font-size="3.6" text-anchor="middle" font-family="Liberation Sans, sans-serif" fill="#7a7a7a">200</text>
<text x="621.2" y="790.4" font-size="3.6" text-anchor="middle" font-family="Liberation Sans, sans-serif" fill="#7a7a7a">200</text>
<text x="490.7" y="791.3" font-size="3.6" text-anchor="middle" font-family="Liberation Sans, sans-serif" fill="#7a7a7a">150</text>
<text x="640.2" y="786.9" font-size="3.6" text-anchor="middle" font-family="Liberation Sans, sans-serif" fill="#7a7a7a">250</text>
<text x="505.6" y="795.8" font-size="3.6" text-anchor="middle" font-family="Liberation Sans, sans-serif" fill="#7a7a7a">100</text>
<text x="659.2" y="783.4" font-size="3.6" text-anchor="middle" font-family="Liberation Sans, sans-serif" fill="#7a7a7a">300</text>
<text x="520.5" y="800.2" font-size="3.6" text-anchor="middle" font-family="Liberation Sans, sans-serif" fill="#7a7a7a">50</text>
<text x="678.2" y="779.8" font-size="3.6" text-anchor="middle" font-family="Liberation Sans, sans-serif" fill="#7a7a7a">350</text>
<text x="535.4" y="804.7" font-size="3.6" text-anchor="middle" font-family="Liberation Sans, sans-serif" fill="#7a7a7a">0</text>
<text x="697.2" y="776.3" font-size="3.6" text-anchor="middle" font-family="Liberation Sans, sans-serif" fill="#7a7a7a">400</text>
<path d="M420.8 763.6h-2.2M420.8 747.9h-2.2M420.8 732.2h-2.2M420.8 716.6h-2.2M420.8 700.9h-2.2M420.8 685.2h-2.2M420.8 763.6l-1.6 1.1M540 799.3l1.6 1.1M435.7 768.1l-1.6 1.1M559 795.8l1.6 1.1M450.6 772.5l-1.6 1.1M578 792.2l1.6 1.1M465.5 777l-1.6 1.1M597 788.7l1.6 1.1M480.4 781.5l-1.6 1.1M616 785.2l1.6 1.1M495.3 785.9l-1.6 1.1M635 781.7l1.6 1.1M510.2 790.4l-1.6 1.1M654 778.1l1.6 1.1M525.1 794.8l-1.6 1.1M673 774.6l1.6 1.1M540 799.3l-1.6 1.1M692 771.1l1.6 1.1" fill="none" stroke="#ababab" stroke-width="0.45"/>
<defs><filter id="ta3" filterUnits="userSpaceOnUse" x="417" y="659" width="277" height="139" color-interpolation-filters="sRGB"><feTurbulence type="fractalNoise" baseFrequency="0.9 0.17" numOctaves="2" seed="34"/><feColorMatrix values="0 0 0 0 0.08 0 0 0 0 0.33 0 0 0 0 0.36 5.0 0 0 0 -2.75"/><feComposite in2="SourceAlpha" operator="in"/></filter><filter id="tg3" filterUnits="userSpaceOnUse" x="417" y="659" width="277" height="139" color-interpolation-filters="sRGB"><feTurbulence type="fractalNoise" baseFrequency="0.9 0.17" numOctaves="2" seed="35"/><feColorMatrix values="0 0 0 0 0.18 0 0 0 0 0.48 0 0 0 0 0.4 6.5 0 0 0 -3.8"/><feComposite in2="SourceAlpha" operator="in"/></filter><filter id="tb3" filterUnits="userSpaceOnUse" x="417" y="659" width="277" height="139" color-interpolation-filters="sRGB"><feTurbulence type="fractalNoise" baseFrequency="0.85 0.035" numOctaves="2" seed="36"/><feColorMatrix values="0 0 0 0 0.1 0 0 0 0 0.32 0 0 0 0 0.5 5.5 0 0 0 -2.5"/><feComposite in2="SourceAlpha" operator="in"/></filter><filter id="tk3" filterUnits="userSpaceOnUse" x="417" y="659" width="277" height="139" color-interpolation-filters="sRGB"><feTurbulence type="fractalNoise" baseFrequency="0.9 0.17" numOctaves="2" seed="37"/><feColorMatrix values="0 0 0 0 0.0 0 0 0 0 0.03 0 0 0 0 0.04 5.5 0 0 0 -2.5"/><feComposite in2="SourceAlpha" operator="in"/></filter><filter id="tq3" filterUnits="userSpaceOnUse" x="417" y="659" width="277" height="139" color-interpolation-filters="sRGB"><feTurbulence type="fractalNoise" baseFrequency="0.85 0.035" numOctaves="2" seed="39"/><feColorMatrix values="0 0 0 0 0.0 0 0 0 0 0.03 0 0 0 0 0.05 6.0 0 0 0 -2.75"/><feComposite in2="SourceAlpha" operator="in"/></filter><filter id="ty3" filterUnits="userSpaceOnUse" x="417" y="659" width="277" height="139" color-interpolation-filters="sRGB"><feTurbulence type="fractalNoise" baseFrequency="0.8 0.4" numOctaves="1" seed="38"/><feColorMatrix values="0 0 0 0 0.5 0 0 0 0 0.45 0 0 0 0 0.28 9.0 0 0 0 -6.1"/><feComposite in2="SourceAlpha" operator="in"/></filter><filter id="bl3" filterUnits="userSpaceOnUse" x="415" y="657" width="281" height="143"><feGaussianBlur stdDeviation="0.4"/></filter><path id="s3" d="M420.6 731.1L421.7 733.2L422.8 727.6L424.1 729.2L425 725.6L426.1 730L427.4 724.6L428.7 728.7L429.6 724.8L430.7 727.9L431.9 721.7L432.9 728.4L434.3 723.2L435.3 728.1L436.3 722.2L437.7 726.6L438.8 723L439.7 726.6L440.7 720.3L441.7 726.9L442.5 721.2L443.6 725.3L444.8 719.2L445.8 724.8L447.1 720.4L448.4 724.4L449.5 718.9L450.6 724.4L451.4 718.7L452.2 723.6L453.6 715.9L454.5 723.3L455.3 717.4L456.6 722.4L457.9 718.6L458.7 722.9L459.6 716.5L460.5 721.9L461.4 713.9L462.1 722.1L463.2 713.7L464.1 721.6L465.1 715.7L466 721.6L466.8 715.4L467.5 720.8L468.8 714.6L470 720.4L471.1 714.1L471.9 720L472.7 712.6L473.6 719.8L474.5 711.6L475.3 719.2L476.2 714.5L477 719.2L477.9 714.3L479 718.7L480.1 714L481.1 717.8L482.1 713.3L483.1 716.6L484.4 711.6L485.3 716.8L486.1 712.1L487.1 716.4L488.1 712.2L489.3 716.2L490.1 711.6L491.4 715.7L492.1 708.6L493.2 715.6L494.2 709.2L495.2 714.6L496.5 710.2L497.6 714.7L498.5 710.1L499.5 713.2L500.6 705.9L501.4 712.6L502.2 709.2L503.3 713.6L504.5 708L505.5 712.4L506.5 707.5L507.6 712.4L508.5 703.7L509.8 711.8L511.1 703.6L512.1 711.6L512.9 706.3L513.9 710.1L515.1 705.8L516.1 709.7L516.9 705.7L517.7 710.3L518.9 705.5L520 708.7L520.9 705.2L522.1 709L523.3 702.7L524.6 708.9L525.9 704L526.9 708.4L528.1 701.7L529.5 707.8L530.7 703L531.9 707.4L533 702.8L534.1 706.2L535.4 698.7L536.5 705.2L537.7 698.9L538.6 705.1L539.4 701.4L540.3 705.6L541.4 697.3L542.5 704.6L543.3 700.4L544.2 704.9L545.5 697.2L546.3 703.3L547.6 696.7L548.8 703.9L549.9 697.9L551.3 703.1L552.5 695.9L553.2 702.2L554.5 695.6L555.5 701.5L556.8 696.5L558.1 701.8L558.9 695.3L559.7 701.4L560.4 693.2L561.6 701.1L562.9 696.4L563.7 699.9L564.6 694.9L565.5 699.9L566.8 694.2L568 699.3L569.2 693.8L570.6 698.8L571.8 693.7L573.1 699L573.8 693.4L574.5 699.3L575.8 692L576.9 699.1L577.9 695.6L578.7 700.8L579.6 693L580.6 700.6L581.6 694L582.7 700.9L583.5 695.6L584.3 701.4L585.2 697.8L586 702.7L586.8 698.7L587.8 703.1L588.6 695L589.8 703L590.9 697.3L591.9 703.5L593.1 698.8L594 705.2L594.7 701.3L595.5 706L596.4 698.8L597.4 705.7L598.3 700.4L599.2 706.2L600.5 698.8L601.2 707.6L602.2 701.7L603.2 707.4L604.1 703.6L605.3 708L606.2 704.3L607 708.2L607.8 703.9L609.2 709L610.1 702.9L610.9 709.2L612.3 706.2L613.4 710.2L614.7 706.4L615.7 711.7L616.9 707.2L617.7 711.9L618.6 705.8L619.8 711.8L620.9 705.9L622.1 713.5L623.1 705.5L624.4 714.3L625.2 706.5L626.3 713.7L627.1 710.5L628 714.1L629.3 710.3L630.3 716L631.5 708.3L632.5 716.9L633.6 710.4L635 717.2L636.1 713.4L637 716.8L638.1 710.9L639.5 718.6L640.7 710.4L641.7 719.5L642.7 715.2L643.5 719.3L644.7 712.6L645.5 720.4L646.4 713.9L647.2 720.8L648 712.8L649 721.4L650 714.7L650.9 721.2L651.9 717.5L653.1 721.7L653.9 718.4L654.7 723.1L655.8 718.6L657.1 724L658.4 718.3L659.5 723.6L660.3 717.5L661.6 724.8L662.9 721.4L664.2 725.6L665.3 721.6L666.3 725.5L667.4 721.7L668.6 727.5L670 723.4L671 727.7L672.1 722.1L673 728.6L674.1 722.9L675.1 729.4L676.1 725.3L677.1 729.2L678.4 725L679.3 730.7L680.2 725.5L681.1 730.2L682.4 726.5L683.3 731.3L684.6 728L685.9 732.2L687.2 727.3L688.4 733.1L689.3 729.9L690.3 736.2L690.7 733.3L690.7 760.3L690.3 756.9L689.3 762.3L688.4 760.9L687.2 765.2L685.9 763.1L684.6 769.8L683.3 762.7L682.4 768.4L681.1 763L680.2 766.2L679.3 764L678.4 767.1L677.1 764.5L676.1 769.4L675.1 764.1L674.1 768.7L673 764.7L672.1 768.6L671 764.4L670 768.5L668.6 765L667.4 772.6L666.3 765.4L665.3 770.7L664.2 766.5L662.9 773.3L661.6 766.2L660.3 771.5L659.5 766.5L658.4 772.2L657.1 768.2L655.8 773.4L654.7 767.4L653.9 770.8L653.1 768.5L651.9 771.2L650.9 768.8L650 772.3L649 769.2L648 774.7L647.2 768.6L646.4 776.6L645.5 770.2L644.7 776.3L643.5 770.4L642.7 774.2L641.7 769.7L640.7 773.6L639.5 770.4L638.1 776.8L637 770.8L636.1 778.7L635 770.9L633.6 778.8L632.5 772.1L631.5 775L630.3 772.5L629.3 776.5L628 772.7L627.1 778L626.3 772.4L625.2 776.9L624.4 773.8L623.1 778.7L622.1 773.7L620.9 776.9L619.8 774.8L618.6 777.1L617.7 774.4L616.9 778L615.7 774.5L614.7 780.1L613.4 774.7L612.3 780.5L610.9 774.9L610.1 780.6L609.2 776.4L607.8 783.2L607 776.7L606.2 781.4L605.3 776.7L604.1 780.5L603.2 777.3L602.2 783.6L601.2 777.9L600.5 781.2L599.2 777.4L598.3 783.9L597.4 778.2L596.4 785.4L595.5 778.5L594.7 785.8L594 778.2L593.1 784.7L591.9 778.6L590.9 782.9L589.8 779L588.6 786.6L587.8 779.1L586.8 786.1L586 779.3L585.2 783.7L584.3 780.9L583.5 784.1L582.7 781.2L581.6 788L580.6 780.3L579.6 784.5L578.7 781.5L577.9 784.8L576.9 782.3L575.8 785.6L574.5 782.9L573.8 786L573.1 782.6L571.8 790.1L570.6 782.3L569.2 788L568 784.1L566.8 787.6L565.5 784.1L564.6 788.1L563.7 783.9L562.9 790.5L561.6 785.2L560.4 792L559.7 785.1L558.9 788.2L558.1 786.2L556.8 793.4L555.5 786L554.5 789.2L553.2 785.9L552.5 789.4L551.3 786.7L549.9 789.8L548.8 786.7L547.6 790.5L546.3 787.1L545.5 793.8L544.2 788.7L543.3 792.4L542.5 787.8L541.4 792.1L540.3 788.7L539.4 793.2L538.6 787.8L537.7 792.3L536.5 788.2L535.4 793.9L534.1 786.3L533 789.3L531.9 785.6L530.7 789.8L529.5 785.4L528.1 792.2L526.9 783.9L525.9 787L524.6 783.4L523.3 789L522.1 782.2L520.9 787.4L520 782.3L518.9 787L517.7 780.4L516.9 783.6L516.1 780.3L515.1 783.3L513.9 780L512.9 784.4L512.1 779.3L511.1 785.5L509.8 777.8L508.5 781.6L507.6 777.1L506.5 783.4L505.5 777.4L504.5 782.5L503.3 775.3L502.2 780.1L501.4 775.5L500.6 780L499.5 775.7L498.5 778.3L497.6 774.9L496.5 777.9L495.2 773.9L494.2 776.3L493.2 773.1L492.1 778.5L491.4 772.8L490.1 780L489.3 772.5L488.1 775.4L487.1 772.2L486.1 774.9L485.3 770.6L484.4 776.6L483.1 770.7L482.1 776.2L481.1 769.2L480.1 772.3L479 769.6L477.9 774.8L477 768.8L476.2 773.5L475.3 768.1L474.5 774.9L473.6 767L472.7 771.1L471.9 767.3L471.1 773.7L470 765.9L468.8 771.9L467.5 765.6L466.8 769.5L466 765L465.1 771L464.1 765.5L463.2 767.7L462.1 764.5L461.4 767.6L460.5 763.5L459.6 766.7L458.7 764L457.9 768.3L456.6 762.7L455.3 765.8L454.5 762.6L453.6 767.1L452.2 760.9L451.4 766.1L450.6 761.7L449.5 764.2L448.4 760.6L447.1 763.5L445.8 759.2L444.8 762.3L443.6 758.3L442.5 762.3L441.7 759.1L440.7 761.5L439.7 757.5L438.8 760.4L437.7 757.7L436.3 760.6L435.3 756.7L434.3 759.9L432.9 756.6L431.9 758.4L430.7 754.9L429.6 758.4L428.7 754.5L427.4 760.8L426.1 753.8L425 757.1L424.1 753.7L422.8 754.7L421.7 748.7L420.6 752Z"/><path id="b3" d="M420.6 727.8L424.1 734.8L427.4 733.5L430.7 735.3L434.3 737.3L437.7 738.3L440.7 739.5L443.6 738.8L447.1 739.6L450.6 741.6L453.6 742.9L456.6 743.7L459.6 743.9L462.1 743.6L465.1 745.8L467.5 745.4L471.1 745.9L473.6 746.5L476.2 748.1L479 749L482.1 750.3L485.3 751L488.1 751.9L491.4 753.2L494.2 752.9L497.6 755.4L500.6 755.9L503.3 757L506.5 757.5L509.8 758.6L512.9 760.4L516.1 761.1L518.9 761.1L522.1 763.8L525.9 763.4L529.5 764.9L533 767.6L536.5 767.9L539.4 768.2L542.5 769.8L545.5 768.4L548.8 766.3L552.5 766.4L555.5 765.8L558.9 764.9L561.6 765.5L564.6 763.7L568 762.6L571.8 763.8L574.5 762.5L577.9 761.6L580.6 762.1L583.5 761.1L586 761.1L588.6 759.3L591.9 758.7L594.7 758.2L597.4 758.1L600.5 757.8L603.2 756.4L606.2 756.8L609.2 757.2L612.3 756.2L615.7 753.7L618.6 754.4L622.1 754.2L625.2 752.2L628 754L631.5 752.9L635 751.7L638.1 751.1L641.7 750.7L644.7 749.6L647.2 749.6L650 748.9L653.1 748L655.8 747.8L659.5 746.2L662.9 746.9L666.3 745.4L670 744.8L673 744L676.1 745L679.3 743.7L682.4 743.4L685.9 742.7L689.3 739.7L690.7 760.3L690.3 756.9L689.3 762.3L688.4 760.9L687.2 765.2L685.9 763.1L684.6 769.8L683.3 762.7L682.4 768.4L681.1 763L680.2 766.2L679.3 764L678.4 767.1L677.1 764.5L676.1 769.4L675.1 764.1L674.1 768.7L673 764.7L672.1 768.6L671 764.4L670 768.5L668.6 765L667.4 772.6L666.3 765.4L665.3 770.7L664.2 766.5L662.9 773.3L661.6 766.2L660.3 771.5L659.5 766.5L658.4 772.2L657.1 768.2L655.8 773.4L654.7 767.4L653.9 770.8L653.1 768.5L651.9 771.2L650.9 768.8L650 772.3L649 769.2L648 774.7L647.2 768.6L646.4 776.6L645.5 770.2L644.7 776.3L643.5 770.4L642.7 774.2L641.7 769.7L640.7 773.6L639.5 770.4L638.1 776.8L637 770.8L636.1 778.7L635 770.9L633.6 778.8L632.5 772.1L631.5 775L630.3 772.5L629.3 776.5L628 772.7L627.1 778L626.3 772.4L625.2 776.9L624.4 773.8L623.1 778.7L622.1 773.7L620.9 776.9L619.8 774.8L618.6 777.1L617.7 774.4L616.9 778L615.7 774.5L614.7 780.1L613.4 774.7L612.3 780.5L610.9 774.9L610.1 780.6L609.2 776.4L607.8 783.2L607 776.7L606.2 781.4L605.3 776.7L604.1 780.5L603.2 777.3L602.2 783.6L601.2 777.9L600.5 781.2L599.2 777.4L598.3 783.9L597.4 778.2L596.4 785.4L595.5 778.5L594.7 785.8L594 778.2L593.1 784.7L591.9 778.6L590.9 782.9L589.8 779L588.6 786.6L587.8 779.1L586.8 786.1L586 779.3L585.2 783.7L584.3 780.9L583.5 784.1L582.7 781.2L581.6 788L580.6 780.3L579.6 784.5L578.7 781.5L577.9 784.8L576.9 782.3L575.8 785.6L574.5 782.9L573.8 786L573.1 782.6L571.8 790.1L570.6 782.3L569.2 788L568 784.1L566.8 787.6L565.5 784.1L564.6 788.1L563.7 783.9L562.9 790.5L561.6 785.2L560.4 792L559.7 785.1L558.9 788.2L558.1 786.2L556.8 793.4L555.5 786L554.5 789.2L553.2 785.9L552.5 789.4L551.3 786.7L549.9 789.8L548.8 786.7L547.6 790.5L546.3 787.1L545.5 793.8L544.2 788.7L543.3 792.4L542.5 787.8L541.4 792.1L540.3 788.7L539.4 793.2L538.6 787.8L537.7 792.3L536.5 788.2L535.4 793.9L534.1 786.3L533 789.3L531.9 785.6L530.7 789.8L529.5 785.4L528.1 792.2L526.9 783.9L525.9 787L524.6 783.4L523.3 789L522.1 782.2L520.9 787.4L520 782.3L518.9 787L517.7 780.4L516.9 783.6L516.1 780.3L515.1 783.3L513.9 780L512.9 784.4L512.1 779.3L511.1 785.5L509.8 777.8L508.5 781.6L507.6 777.1L506.5 783.4L505.5 777.4L504.5 782.5L503.3 775.3L502.2 780.1L501.4 775.5L500.6 780L499.5 775.7L498.5 778.3L497.6 774.9L496.5 777.9L495.2 773.9L494.2 776.3L493.2 773.1L492.1 778.5L491.4 772.8L490.1 780L489.3 772.5L488.1 775.4L487.1 772.2L486.1 774.9L485.3 770.6L484.4 776.6L483.1 770.7L482.1 776.2L481.1 769.2L480.1 772.3L479 769.6L477.9 774.8L477 768.8L476.2 773.5L475.3 768.1L474.5 774.9L473.6 767L472.7 771.1L471.9 767.3L471.1 773.7L470 765.9L468.8 771.9L467.5 765.6L466.8 769.5L466 765L465.1 771L464.1 765.5L463.2 767.7L462.1 764.5L461.4 767.6L460.5 763.5L459.6 766.7L458.7 764L457.9 768.3L456.6 762.7L455.3 765.8L454.5 762.6L453.6 767.1L452.2 760.9L451.4 766.1L450.6 761.7L449.5 764.2L448.4 760.6L447.1 763.5L445.8 759.2L444.8 762.3L443.6 758.3L442.5 762.3L441.7 759.1L440.7 761.5L439.7 757.5L438.8 760.4L437.7 757.7L436.3 760.6L435.3 756.7L434.3 759.9L432.9 756.6L431.9 758.4L430.7 754.9L429.6 758.4L428.7 754.5L427.4 760.8L426.1 753.8L425 757.1L424.1 753.7L422.8 754.7L421.7 748.7L420.6 752Z"/><path id="t3" d="M420.6 731.1L421.7 733.2L422.8 727.6L424.1 729.2L425 725.6L426.1 730L427.4 724.6L428.7 728.7L429.6 724.8L430.7 727.9L431.9 721.7L432.9 728.4L434.3 723.2L435.3 728.1L436.3 722.2L437.7 726.6L438.8 723L439.7 726.6L440.7 720.3L441.7 726.9L442.5 721.2L443.6 725.3L444.8 719.2L445.8 724.8L447.1 720.4L448.4 724.4L449.5 718.9L450.6 724.4L451.4 718.7L452.2 723.6L453.6 715.9L454.5 723.3L455.3 717.4L456.6 722.4L457.9 718.6L458.7 722.9L459.6 716.5L460.5 721.9L461.4 713.9L462.1 722.1L463.2 713.7L464.1 721.6L465.1 715.7L466 721.6L466.8 715.4L467.5 720.8L468.8 714.6L470 720.4L471.1 714.1L471.9 720L472.7 712.6L473.6 719.8L474.5 711.6L475.3 719.2L476.2 714.5L477 719.2L477.9 714.3L479 718.7L480.1 714L481.1 717.8L482.1 713.3L483.1 716.6L484.4 711.6L485.3 716.8L486.1 712.1L487.1 716.4L488.1 712.2L489.3 716.2L490.1 711.6L491.4 715.7L492.1 708.6L493.2 715.6L494.2 709.2L495.2 714.6L496.5 710.2L497.6 714.7L498.5 710.1L499.5 713.2L500.6 705.9L501.4 712.6L502.2 709.2L503.3 713.6L504.5 708L505.5 712.4L506.5 707.5L507.6 712.4L508.5 703.7L509.8 711.8L511.1 703.6L512.1 711.6L512.9 706.3L513.9 710.1L515.1 705.8L516.1 709.7L516.9 705.7L517.7 710.3L518.9 705.5L520 708.7L520.9 705.2L522.1 709L523.3 702.7L524.6 708.9L525.9 704L526.9 708.4L528.1 701.7L529.5 707.8L530.7 703L531.9 707.4L533 702.8L534.1 706.2L535.4 698.7L536.5 705.2L537.7 698.9L538.6 705.1L539.4 701.4L540.3 705.6L541.4 697.3L542.5 704.6L543.3 700.4L544.2 704.9L545.5 697.2L546.3 703.3L547.6 696.7L548.8 703.9L549.9 697.9L551.3 703.1L552.5 695.9L553.2 702.2L554.5 695.6L555.5 701.5L556.8 696.5L558.1 701.8L558.9 695.3L559.7 701.4L560.4 693.2L561.6 701.1L562.9 696.4L563.7 699.9L564.6 694.9L565.5 699.9L566.8 694.2L568 699.3L569.2 693.8L570.6 698.8L571.8 693.7L573.1 699L573.8 693.4L574.5 699.3L575.8 692L576.9 699.1L577.9 695.6L578.7 700.8L579.6 693L580.6 700.6L581.6 694L582.7 700.9L583.5 695.6L584.3 701.4L585.2 697.8L586 702.7L586.8 698.7L587.8 703.1L588.6 695L589.8 703L590.9 697.3L591.9 703.5L593.1 698.8L594 705.2L594.7 701.3L595.5 706L596.4 698.8L597.4 705.7L598.3 700.4L599.2 706.2L600.5 698.8L601.2 707.6L602.2 701.7L603.2 707.4L604.1 703.6L605.3 708L606.2 704.3L607 708.2L607.8 703.9L609.2 709L610.1 702.9L610.9 709.2L612.3 706.2L613.4 710.2L614.7 706.4L615.7 711.7L616.9 707.2L617.7 711.9L618.6 705.8L619.8 711.8L620.9 705.9L622.1 713.5L623.1 705.5L624.4 714.3L625.2 706.5L626.3 713.7L627.1 710.5L628 714.1L629.3 710.3L630.3 716L631.5 708.3L632.5 716.9L633.6 710.4L635 717.2L636.1 713.4L637 716.8L638.1 710.9L639.5 718.6L640.7 710.4L641.7 719.5L642.7 715.2L643.5 719.3L644.7 712.6L645.5 720.4L646.4 713.9L647.2 720.8L648 712.8L649 721.4L650 714.7L650.9 721.2L651.9 717.5L653.1 721.7L653.9 718.4L654.7 723.1L655.8 718.6L657.1 724L658.4 718.3L659.5 723.6L660.3 717.5L661.6 724.8L662.9 721.4L664.2 725.6L665.3 721.6L666.3 725.5L667.4 721.7L668.6 727.5L670 723.4L671 727.7L672.1 722.1L673 728.6L674.1 722.9L675.1 729.4L676.1 725.3L677.1 729.2L678.4 725L679.3 730.7L680.2 725.5L681.1 730.2L682.4 726.5L683.3 731.3L684.6 728L685.9 732.2L687.2 727.3L688.4 733.1L689.3 729.9L690.3 736.2L690.7 733.3L689.3 737.9L685.9 732.8L682.4 733.7L679.3 732.3L676.1 729.9L673 729L670 727.4L666.3 728.5L662.9 727.6L659.5 725.8L655.8 725.6L653.1 724.7L650 722.2L647.2 722.8L644.7 720.8L641.7 721.6L638.1 719.9L635 719.3L631.5 717.9L628 715.6L625.2 717.1L622.1 713.6L618.6 713.3L615.7 712.5L612.3 712.5L609.2 712.2L606.2 709L603.2 709.9L600.5 708.5L597.4 706.6L594.7 707.7L591.9 707.2L588.6 704.8L586 702.9L583.5 704.6L580.6 702.1L577.9 701L574.5 699.3L571.8 701.6L568 702.3L564.6 701.7L561.6 700.6L558.9 701.4L555.5 702.5L552.5 703.4L548.8 703.8L545.5 706.6L542.5 707.7L539.4 707.3L536.5 707.6L533 707.3L529.5 707.6L525.9 708.7L522.1 709.8L518.9 711.9L516.1 712.3L512.9 711.4L509.8 713L506.5 713.6L503.3 714.2L500.6 714.7L497.6 715.4L494.2 715.7L491.4 716.3L488.1 719.3L485.3 717.8L482.1 720.8L479 718.8L476.2 720.5L473.6 720.2L471.1 722.4L467.5 723.9L465.1 722.6L462.1 722.9L459.6 724.5L456.6 724.7L453.6 725.1L450.6 725.1L447.1 726.1L443.6 728.4L440.7 727.6L437.7 727.6L434.3 728.4L430.7 731L427.4 731.8L424.1 730.9L420.6 735.6Z"/></defs>
<g filter="url(#bl3)">
<use href="#s3" fill="#081a20"/>
<use href="#s3" filter="url(#ta3)"/>
<use href="#s3" filter="url(#tg3)" opacity="0.8"/>
<use href="#b3" fill="#0f3558" opacity="0.8"/>
<use href="#b3" filter="url(#tb3)"/>
<use href="#b3" filter="url(#tq3)"/>
<use href="#s3" filter="url(#tb3)" opacity="0.35"/>
<use href="#s3" filter="url(#tk3)"/>
<use href="#s3" filter="url(#ty3)" opacity="0.3"/>
<use href="#t3" fill="#04090b" opacity="0.35"/>
<path d="M537.4 788.5L540.2 797.0L542.4 788.5Z" fill="#0b2238"/>
<path d="M474.7 718.6L475.5 710.1L476.3 718.6ZM497.8 713.7L498.3 703L498.8 713.7ZM499.9 713.3L500.6 702.6L501.3 713.3ZM455.4 722.8L456.1 714L456.7 722.8ZM430.8 728.1L431.3 717L431.8 728.1ZM668 726.6L668.8 716.7L669.5 726.6ZM520.7 708.8L521.4 701.2L522.1 708.8ZM674.5 728.5L675.2 721.8L675.9 728.5ZM582.7 701.5L583.4 690.1L584.2 701.5ZM673.4 728.2L674.1 718.3L674.7 728.2ZM670 727.2L670.8 720.7L671.6 727.2ZM426.9 729L427.4 722.2L427.9 729ZM541.6 704.3L542.4 693.9L543.1 704.3ZM587.2 702.8L587.8 694.6L588.4 702.8ZM542.8 704.1L543.5 696.1L544.2 704.1ZM593.4 704.7L594.3 697.9L595.1 704.7ZM457.5 722.4L458 711.6L458.5 722.4ZM424 729.6L424.6 718.3L425.2 729.6ZM526.3 707.6L526.9 697.3L527.4 707.6ZM583.3 701.6L584 690.8L584.6 701.6ZM429 728.4L429.8 721.4L430.7 728.4ZM474.9 718.6L475.6 708.7L476.3 718.6ZM627.4 714.6L628.1 705L628.8 714.6ZM634.9 716.8L635.5 706.8L636.1 716.8ZM442.2 725.6L442.9 716.3L443.6 725.6ZM598.3 706.1L599.2 698.3L600 706.1ZM580.7 700.8L581.3 692.4L581.8 700.8ZM471.4 719.4L472.2 711.7L472.9 719.4ZM531.9 706.4L532.5 695.9L533.2 706.4ZM644.9 719.8L645.6 708.5L646.4 719.8ZM633.1 716.3L633.7 708.5L634.4 716.3ZM524.1 708L525 699.7L525.8 708ZM510.8 710.9L511.5 699.6L512.3 710.9ZM493.8 714.6L494.4 706L495.1 714.6ZM544.2 703.8L544.9 692.5L545.6 703.8ZM554.2 701.6L554.8 692.3L555.4 701.6ZM457.2 722.4L458 714.1L458.7 722.4ZM632.8 716.2L633.5 709.8L634.2 716.2ZM625.2 714L626.1 704.5L626.9 714ZM504 712.4L504.6 705.2L505.3 712.4ZM429.3 728.4L430 717.7L430.6 728.4ZM597.8 705.9L598.5 697L599.1 705.9ZM522.3 708.4L523.1 698L524 708.4ZM684.9 731.6L685.6 722.4L686.2 731.6ZM573.1 698.6L573.7 687.3L574.3 698.6ZM426.8 728.9L427.6 720L428.4 728.9ZM461 721.6L461.7 713.5L462.4 721.6ZM589.3 703.4L590.1 695.4L590.9 703.4ZM640.7 718.6L641.5 708.6L642.3 718.6ZM458.7 722.1L459.4 713.7L460 722.1ZM499.2 713.4L500 704.9L500.9 713.4ZM619.3 712.2L620 705L620.7 712.2ZM595 705L595.6 697.5L596.2 705ZM457.4 722.4L458.2 713.7L458.9 722.4ZM515.6 709.9L516.1 702L516.7 709.9ZM680.3 730.2L680.9 722.6L681.6 730.2ZM483.9 716.7L484.6 707.8L485.4 716.7ZM652.3 722L653.2 712.7L654 722ZM499.2 713.4L499.8 703.5L500.5 713.4ZM491.8 715L492.4 706.7L492.9 715ZM588.3 703.1L589 696L589.8 703.1ZM616.9 711.5L617.5 705.1L618.1 711.5ZM595 705.1L595.7 695.4L596.4 705.1ZM426.9 728.9L427.5 718.8L428 728.9ZM427.7 728.8L428.3 718.6L429 728.8ZM474.3 718.8L474.9 711.8L475.6 718.8ZM597.4 705.8L598 699.3L598.7 705.8ZM542.5 704.1L543.2 693.3L543.8 704.1ZM466.4 720.5L466.9 711.1L467.5 720.5ZM448.1 724.4L448.8 713.4L449.5 724.4ZM516 709.8L516.6 702.4L517.1 709.8ZM532.3 706.3L533.1 697.8L534 706.3ZM547.3 703.1L548 694.8L548.6 703.1ZM501.9 712.8L502.5 703.9L503.2 712.8ZM476.4 718.3L477.2 710.1L478 718.3Z" fill="#141c20" opacity="0.8"/>
<path d="M563.5 703.5L564.3 697.9L565 703.5ZM564.4 703.5L565.2 696.6L565.9 703.5ZM565 703.5L565.7 695.5L566.5 703.5ZM565.7 703.5L566.4 694.1L567.2 703.5ZM566.1 703.5L566.9 692.8L567.6 703.5ZM566.9 703.5L567.7 691.3L568.4 703.5ZM567.5 703.5L568.2 690.1L569 703.5ZM568.3 703.5L569.1 687.4L569.8 703.5ZM568.8 703.5L569.6 685.8L570.3 703.5ZM569.7 703.5L570.4 684.6L571.2 703.5ZM570.3 703.5L571 682.5L571.8 703.5ZM570.9 703.5L571.6 680.9L572.4 703.5ZM571.6 703.5L572.3 679.3L573.1 703.5ZM572.4 703.5L573.1 676.8L573.9 703.5ZM573 703.5L573.8 675.2L574.5 703.5ZM572.4 703.5L573.4 676L574.5 703.5ZM574 703.5L574.9 689.5L575.8 703.5ZM565.2 703.5L573.1 678.5L574.8 703.5Z" fill="#11191e" opacity="0.9"/>
<path d="M573.4 704.5L540 788" stroke="#2a2f7a" stroke-width="1.4" opacity="0.4" fill="none"/>
</g>
<text x="466.8" y="799.1" font-size="11.4" text-anchor="middle" font-family="Liberation Serif, serif" fill="#333333" transform="rotate(17 466.8 799.1)">Neuron #</text>
<text x="645.6" y="804.7" font-size="11.4" text-anchor="middle" font-family="Liberation Serif, serif" fill="#333333" transform="rotate(-9.7 645.6 804.7)">Neuron #</text>
<text x="382.9" y="728.7" font-size="11.1" text-anchor="middle" font-family="Liberation Serif, serif" fill="#333333" transform="rotate(-90 382.9 728.7)">Difference of neural cross-</text>
<text x="395.7" y="728.7" font-size="11.1" text-anchor="middle" font-family="Liberation Serif, serif" fill="#333333" transform="rotate(-90 395.7 728.7)">correlation between Sti.1 and Sti.4</text>
</svg>
</body></html>
